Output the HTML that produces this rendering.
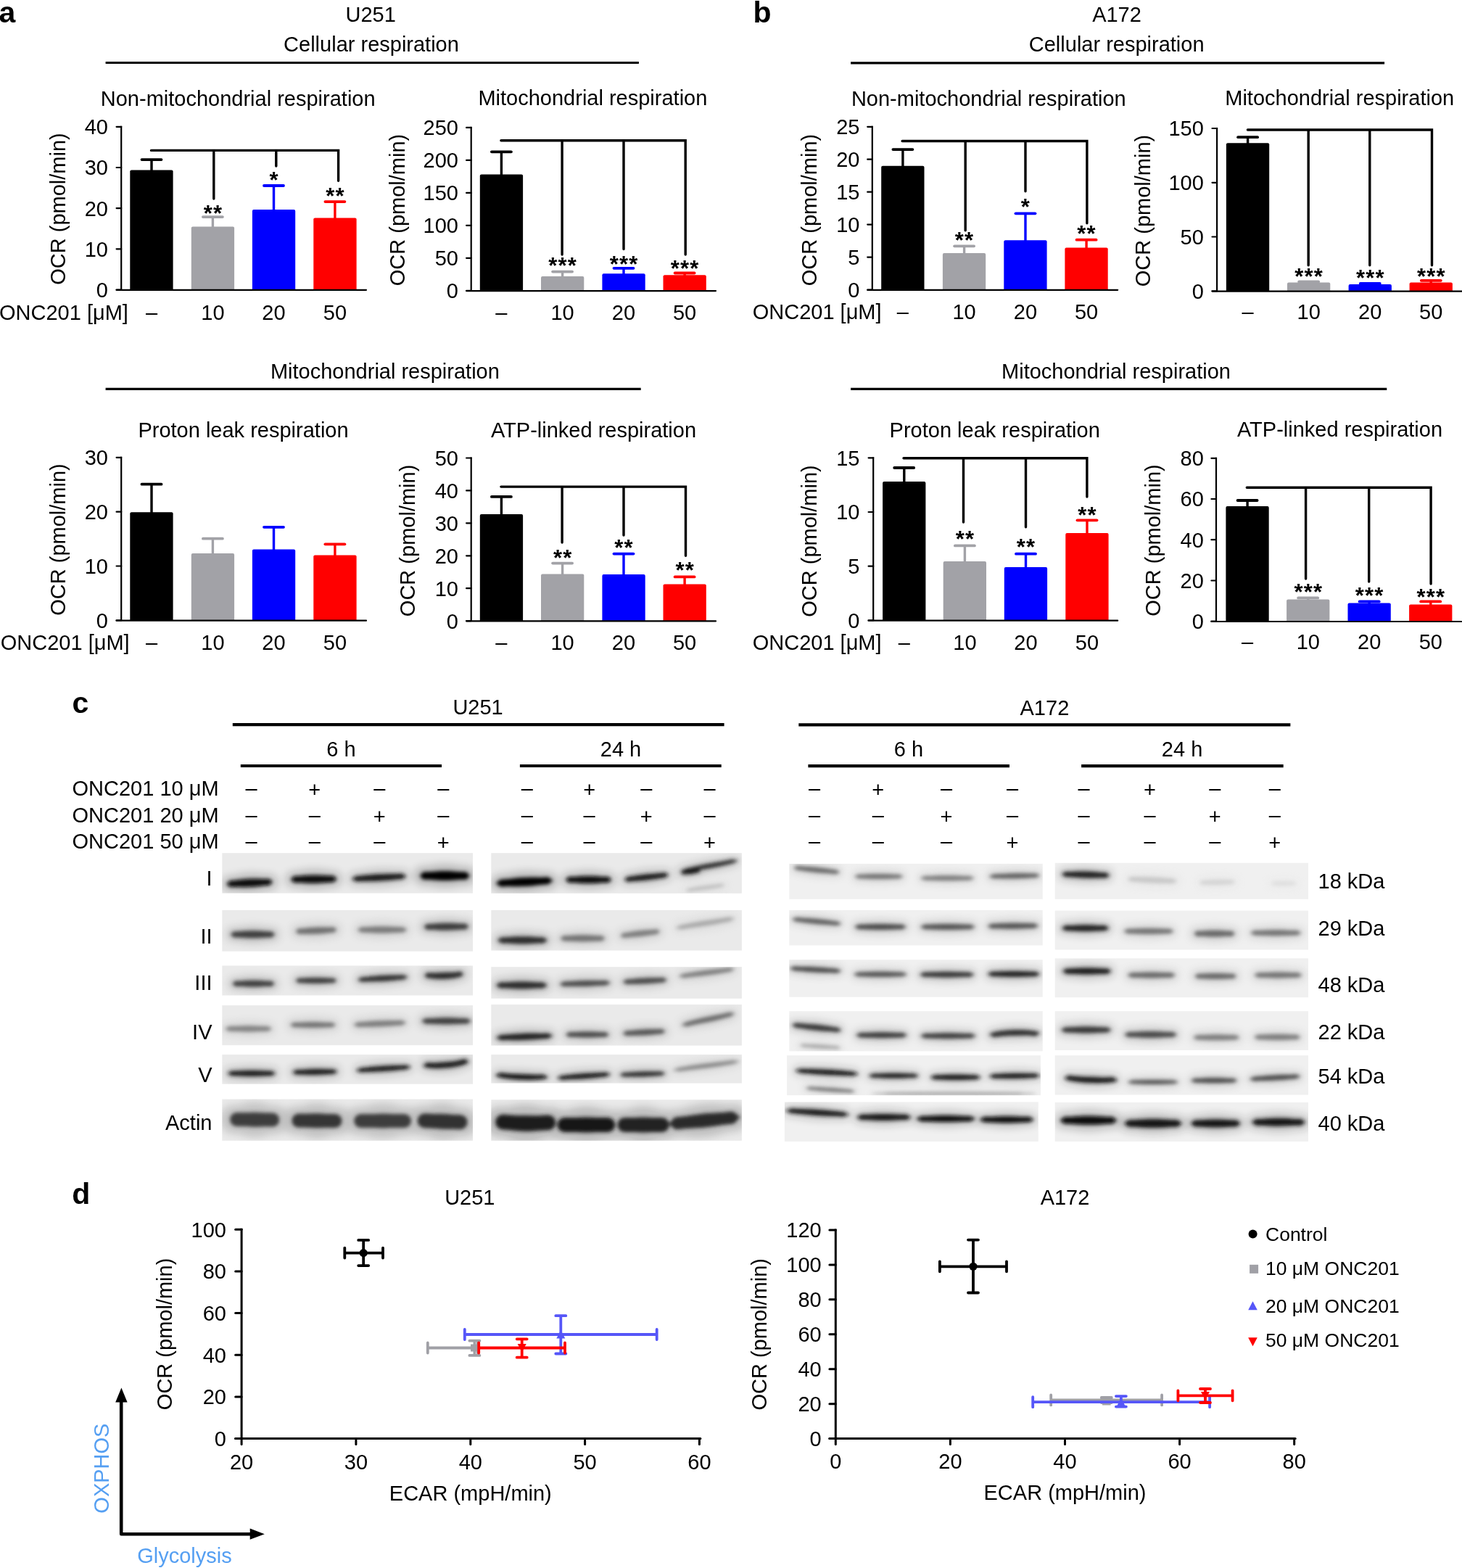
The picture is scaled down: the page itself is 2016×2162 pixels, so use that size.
<!DOCTYPE html>
<html><head><meta charset="utf-8"><title>Figure</title><style>html,body{margin:0;padding:0;background:#fff;}svg{display:block;}</style></head><body>
<svg width="2016" height="2162" viewBox="0 0 2016 2162" font-family='"Liberation Sans", Arial, Helvetica, sans-serif' font-size="29" fill="#000"><defs><filter id="bl" filterUnits="userSpaceOnUse" x="0" y="0" width="2016" height="2162"><feGaussianBlur stdDeviation="2.4"/></filter><filter id="bl2" filterUnits="userSpaceOnUse" x="0" y="0" width="2016" height="2162"><feGaussianBlur stdDeviation="6"/></filter></defs><rect width="2016" height="2162" fill="#fff"/>
<text x="-1.5" y="31" font-size="41" font-weight="bold">a</text>
<text x="1038.5" y="31" font-size="41" font-weight="bold">b</text>
<text x="511.2" y="30" text-anchor="middle">U251</text>
<text x="512" y="70.7" text-anchor="middle">Cellular respiration</text>
<line x1="145.6" y1="86.5" x2="880.9" y2="86.5" stroke="#000" stroke-width="3.2"/>
<text x="1540" y="30" text-anchor="middle">A172</text>
<text x="1539.7" y="70.7" text-anchor="middle">Cellular respiration</text>
<line x1="1173.1" y1="86.8" x2="1909.1" y2="86.8" stroke="#000" stroke-width="3.2"/>
<text x="530.9" y="522" text-anchor="middle">Mitochondrial respiration</text>
<line x1="145.6" y1="536.3" x2="883.7" y2="536.3" stroke="#000" stroke-width="3.2"/>
<text x="1539" y="522" text-anchor="middle">Mitochondrial respiration</text>
<line x1="1173.1" y1="536.3" x2="1912.3" y2="536.3" stroke="#000" stroke-width="3.2"/>
<line x1="209" y1="236.4" x2="209" y2="220.1" stroke="#000000" stroke-width="3.4"/>
<line x1="195.5" y1="220.1" x2="222.5" y2="220.1" stroke="#000000" stroke-width="3.8" stroke-linecap="round"/>
<path d="M179.3 399.5V236.4q0 -2 2 -2H236.6q2 0 2 2V399.5Z" fill="#000000"/>
<line x1="293.4" y1="314.6" x2="293.4" y2="299.1" stroke="#a2a2a7" stroke-width="3.4"/>
<line x1="279.9" y1="299.1" x2="306.9" y2="299.1" stroke="#a2a2a7" stroke-width="3.8" stroke-linecap="round"/>
<path d="M263.8 399.5V314.6q0 -2 2 -2H321.1q2 0 2 2V399.5Z" fill="#a2a2a7"/>
<line x1="377.5" y1="290.9" x2="377.5" y2="256" stroke="#0000ff" stroke-width="3.4"/>
<line x1="364" y1="256" x2="391" y2="256" stroke="#0000ff" stroke-width="3.8" stroke-linecap="round"/>
<path d="M347.9 399.5V290.9q0 -2 2 -2H405.2q2 0 2 2V399.5Z" fill="#0000ff"/>
<line x1="461.9" y1="302.5" x2="461.9" y2="278.1" stroke="#ff0000" stroke-width="3.4"/>
<line x1="448.4" y1="278.1" x2="475.4" y2="278.1" stroke="#ff0000" stroke-width="3.8" stroke-linecap="round"/>
<path d="M432.3 399.5V302.5q0 -2 2 -2H489.6q2 0 2 2V399.5Z" fill="#ff0000"/>
<line x1="167.2" y1="173.7" x2="167.2" y2="399.5" stroke="#000" stroke-width="2.2"/>
<line x1="160.6" y1="174.8" x2="167.2" y2="174.8" stroke="#000" stroke-width="2.2" stroke-linecap="round"/>
<text x="149" y="185.2" text-anchor="end">40</text>
<line x1="160.6" y1="231" x2="167.2" y2="231" stroke="#000" stroke-width="2.2" stroke-linecap="round"/>
<text x="149" y="241.4" text-anchor="end">30</text>
<line x1="160.6" y1="287.1" x2="167.2" y2="287.1" stroke="#000" stroke-width="2.2" stroke-linecap="round"/>
<text x="149" y="297.5" text-anchor="end">20</text>
<line x1="160.6" y1="343.3" x2="167.2" y2="343.3" stroke="#000" stroke-width="2.2" stroke-linecap="round"/>
<text x="149" y="353.7" text-anchor="end">10</text>
<line x1="160.6" y1="399.5" x2="167.2" y2="399.5" stroke="#000" stroke-width="2.2" stroke-linecap="round"/>
<text x="149" y="409.9" text-anchor="end">0</text>
<line x1="160.6" y1="399.8" x2="505" y2="399.8" stroke="#000" stroke-width="2.2" stroke-linecap="round"/>
<text x="89.5" y="288" text-anchor="middle" transform="rotate(-90 89.5 288)">OCR (pmol/min)</text>
<text x="328.2" y="145.6" text-anchor="middle">Non-mitochondrial respiration</text>
<text x="209" y="441" text-anchor="middle">–</text>
<text x="293.4" y="441" text-anchor="middle">10</text>
<text x="377.5" y="441" text-anchor="middle">20</text>
<text x="461.9" y="441" text-anchor="middle">50</text>
<text x="-1" y="441">ONC201 [μM]</text>
<path d="M208.5 207.4H466.6V249.2M294.8 207.4V274M380.8 207.4V229" stroke="#000" stroke-width="3.4" stroke-linecap="round" stroke-linejoin="miter" fill="none"/>
<text x="294" y="304.9" font-size="31" text-anchor="middle" font-weight="bold" letter-spacing="1.2">**</text>
<text x="378.1" y="259" font-size="31" text-anchor="middle" font-weight="bold" letter-spacing="1.2">*</text>
<text x="462.5" y="280.6" font-size="31" text-anchor="middle" font-weight="bold" letter-spacing="1.2">**</text>
<line x1="691.4" y1="242.6" x2="691.4" y2="209.3" stroke="#000000" stroke-width="3.4"/>
<line x1="677.9" y1="209.3" x2="704.9" y2="209.3" stroke="#000000" stroke-width="3.8" stroke-linecap="round"/>
<path d="M661.8 400.8V242.6q0 -2 2 -2H719.1q2 0 2 2V400.8Z" fill="#000000"/>
<line x1="775.6" y1="383.1" x2="775.6" y2="374.6" stroke="#a2a2a7" stroke-width="3.4"/>
<line x1="762.1" y1="374.6" x2="789.1" y2="374.6" stroke="#a2a2a7" stroke-width="3.8" stroke-linecap="round"/>
<path d="M746 400.8V383.1q0 -2 2 -2H803.3q2 0 2 2V400.8Z" fill="#a2a2a7"/>
<line x1="860" y1="379.3" x2="860" y2="369.8" stroke="#0000ff" stroke-width="3.4"/>
<line x1="846.5" y1="369.8" x2="873.5" y2="369.8" stroke="#0000ff" stroke-width="3.8" stroke-linecap="round"/>
<path d="M830.4 400.8V379.3q0 -2 2 -2H887.7q2 0 2 2V400.8Z" fill="#0000ff"/>
<line x1="944.1" y1="381.2" x2="944.1" y2="376.5" stroke="#ff0000" stroke-width="3.4"/>
<line x1="930.6" y1="376.5" x2="957.6" y2="376.5" stroke="#ff0000" stroke-width="3.8" stroke-linecap="round"/>
<path d="M914.5 400.8V381.2q0 -2 2 -2H971.8q2 0 2 2V400.8Z" fill="#ff0000"/>
<line x1="649.7" y1="174.8" x2="649.7" y2="400.8" stroke="#000" stroke-width="2.2"/>
<line x1="643.1" y1="175.9" x2="649.7" y2="175.9" stroke="#000" stroke-width="2.2" stroke-linecap="round"/>
<text x="632" y="186.3" text-anchor="end">250</text>
<line x1="643.1" y1="220.9" x2="649.7" y2="220.9" stroke="#000" stroke-width="2.2" stroke-linecap="round"/>
<text x="632" y="231.3" text-anchor="end">200</text>
<line x1="643.1" y1="265.9" x2="649.7" y2="265.9" stroke="#000" stroke-width="2.2" stroke-linecap="round"/>
<text x="632" y="276.3" text-anchor="end">150</text>
<line x1="643.1" y1="310.8" x2="649.7" y2="310.8" stroke="#000" stroke-width="2.2" stroke-linecap="round"/>
<text x="632" y="321.2" text-anchor="end">100</text>
<line x1="643.1" y1="355.8" x2="649.7" y2="355.8" stroke="#000" stroke-width="2.2" stroke-linecap="round"/>
<text x="632" y="366.2" text-anchor="end">50</text>
<line x1="643.1" y1="400.8" x2="649.7" y2="400.8" stroke="#000" stroke-width="2.2" stroke-linecap="round"/>
<text x="632" y="411.2" text-anchor="end">0</text>
<line x1="643.1" y1="401.1" x2="987" y2="401.1" stroke="#000" stroke-width="2.2" stroke-linecap="round"/>
<text x="557.5" y="289.5" text-anchor="middle" transform="rotate(-90 557.5 289.5)">OCR (pmol/min)</text>
<text x="817.4" y="145.2" text-anchor="middle">Mitochondrial respiration</text>
<text x="691.4" y="441" text-anchor="middle">–</text>
<text x="775.6" y="441" text-anchor="middle">10</text>
<text x="860" y="441" text-anchor="middle">20</text>
<text x="944.1" y="441" text-anchor="middle">50</text>
<path d="M690.9 193.7H945.2V351M775.1 193.7V351M860 193.7V343.6" stroke="#000" stroke-width="3.4" stroke-linecap="round" stroke-linejoin="miter" fill="none"/>
<text x="776.2" y="376.6" font-size="31" text-anchor="middle" font-weight="bold" letter-spacing="1.2">***</text>
<text x="860.6" y="375.2" font-size="31" text-anchor="middle" font-weight="bold" letter-spacing="1.2">***</text>
<text x="944.7" y="380.6" font-size="31" text-anchor="middle" font-weight="bold" letter-spacing="1.2">***</text>
<line x1="209" y1="708.3" x2="209" y2="667.7" stroke="#000000" stroke-width="3.4"/>
<line x1="195.5" y1="667.7" x2="222.5" y2="667.7" stroke="#000000" stroke-width="3.8" stroke-linecap="round"/>
<path d="M179.3 855.4V708.3q0 -2 2 -2H236.6q2 0 2 2V855.4Z" fill="#000000"/>
<line x1="293.4" y1="764.9" x2="293.4" y2="742.7" stroke="#a2a2a7" stroke-width="3.4"/>
<line x1="279.9" y1="742.7" x2="306.9" y2="742.7" stroke="#a2a2a7" stroke-width="3.8" stroke-linecap="round"/>
<path d="M263.8 855.4V764.9q0 -2 2 -2H321.1q2 0 2 2V855.4Z" fill="#a2a2a7"/>
<line x1="377.5" y1="759.5" x2="377.5" y2="726.8" stroke="#0000ff" stroke-width="3.4"/>
<line x1="364" y1="726.8" x2="391" y2="726.8" stroke="#0000ff" stroke-width="3.8" stroke-linecap="round"/>
<path d="M347.9 855.4V759.5q0 -2 2 -2H405.2q2 0 2 2V855.4Z" fill="#0000ff"/>
<line x1="461.9" y1="767.6" x2="461.9" y2="750.3" stroke="#ff0000" stroke-width="3.4"/>
<line x1="448.4" y1="750.3" x2="475.4" y2="750.3" stroke="#ff0000" stroke-width="3.8" stroke-linecap="round"/>
<path d="M432.3 855.4V767.6q0 -2 2 -2H489.6q2 0 2 2V855.4Z" fill="#ff0000"/>
<line x1="167.2" y1="629.7" x2="167.2" y2="855.4" stroke="#000" stroke-width="2.2"/>
<line x1="160.6" y1="630.8" x2="167.2" y2="630.8" stroke="#000" stroke-width="2.2" stroke-linecap="round"/>
<text x="149" y="641.2" text-anchor="end">30</text>
<line x1="160.6" y1="705.7" x2="167.2" y2="705.7" stroke="#000" stroke-width="2.2" stroke-linecap="round"/>
<text x="149" y="716.1" text-anchor="end">20</text>
<line x1="160.6" y1="780.5" x2="167.2" y2="780.5" stroke="#000" stroke-width="2.2" stroke-linecap="round"/>
<text x="149" y="790.9" text-anchor="end">10</text>
<line x1="160.6" y1="855.4" x2="167.2" y2="855.4" stroke="#000" stroke-width="2.2" stroke-linecap="round"/>
<text x="149" y="865.8" text-anchor="end">0</text>
<line x1="160.6" y1="855.7" x2="505" y2="855.7" stroke="#000" stroke-width="2.2" stroke-linecap="round"/>
<text x="89.5" y="744" text-anchor="middle" transform="rotate(-90 89.5 744)">OCR (pmol/min)</text>
<text x="335.5" y="602.7" text-anchor="middle">Proton leak respiration</text>
<text x="209" y="896.4" text-anchor="middle">–</text>
<text x="293.4" y="896.4" text-anchor="middle">10</text>
<text x="377.5" y="896.4" text-anchor="middle">20</text>
<text x="461.9" y="896.4" text-anchor="middle">50</text>
<text x="0.8" y="896.4">ONC201 [μM]</text>
<line x1="691.4" y1="710.9" x2="691.4" y2="684.9" stroke="#000000" stroke-width="3.4"/>
<line x1="677.9" y1="684.9" x2="704.9" y2="684.9" stroke="#000000" stroke-width="3.8" stroke-linecap="round"/>
<path d="M661.8 856.1V710.9q0 -2 2 -2H719.1q2 0 2 2V856.1Z" fill="#000000"/>
<line x1="775.6" y1="793.4" x2="775.6" y2="776.6" stroke="#a2a2a7" stroke-width="3.4"/>
<line x1="762.1" y1="776.6" x2="789.1" y2="776.6" stroke="#a2a2a7" stroke-width="3.8" stroke-linecap="round"/>
<path d="M746 856.1V793.4q0 -2 2 -2H803.3q2 0 2 2V856.1Z" fill="#a2a2a7"/>
<line x1="860" y1="793.9" x2="860" y2="763.6" stroke="#0000ff" stroke-width="3.4"/>
<line x1="846.5" y1="763.6" x2="873.5" y2="763.6" stroke="#0000ff" stroke-width="3.8" stroke-linecap="round"/>
<path d="M830.4 856.1V793.9q0 -2 2 -2H887.7q2 0 2 2V856.1Z" fill="#0000ff"/>
<line x1="944.1" y1="807.4" x2="944.1" y2="795.4" stroke="#ff0000" stroke-width="3.4"/>
<line x1="930.6" y1="795.4" x2="957.6" y2="795.4" stroke="#ff0000" stroke-width="3.8" stroke-linecap="round"/>
<path d="M914.5 856.1V807.4q0 -2 2 -2H971.8q2 0 2 2V856.1Z" fill="#ff0000"/>
<line x1="649.7" y1="630.4" x2="649.7" y2="856.1" stroke="#000" stroke-width="2.2"/>
<line x1="643.1" y1="631.5" x2="649.7" y2="631.5" stroke="#000" stroke-width="2.2" stroke-linecap="round"/>
<text x="632" y="641.9" text-anchor="end">50</text>
<line x1="643.1" y1="676.4" x2="649.7" y2="676.4" stroke="#000" stroke-width="2.2" stroke-linecap="round"/>
<text x="632" y="686.8" text-anchor="end">40</text>
<line x1="643.1" y1="721.3" x2="649.7" y2="721.3" stroke="#000" stroke-width="2.2" stroke-linecap="round"/>
<text x="632" y="731.7" text-anchor="end">30</text>
<line x1="643.1" y1="766.3" x2="649.7" y2="766.3" stroke="#000" stroke-width="2.2" stroke-linecap="round"/>
<text x="632" y="776.7" text-anchor="end">20</text>
<line x1="643.1" y1="811.2" x2="649.7" y2="811.2" stroke="#000" stroke-width="2.2" stroke-linecap="round"/>
<text x="632" y="821.6" text-anchor="end">10</text>
<line x1="643.1" y1="856.1" x2="649.7" y2="856.1" stroke="#000" stroke-width="2.2" stroke-linecap="round"/>
<text x="632" y="866.5" text-anchor="end">0</text>
<line x1="643.1" y1="856.4" x2="987" y2="856.4" stroke="#000" stroke-width="2.2" stroke-linecap="round"/>
<text x="572" y="745.4" text-anchor="middle" transform="rotate(-90 572 745.4)">OCR (pmol/min)</text>
<text x="818.5" y="602.6" text-anchor="middle">ATP-linked respiration</text>
<text x="691.4" y="895.8" text-anchor="middle">–</text>
<text x="775.6" y="895.8" text-anchor="middle">10</text>
<text x="860" y="895.8" text-anchor="middle">20</text>
<text x="944.1" y="895.8" text-anchor="middle">50</text>
<path d="M690.9 671.1H945.5V766.3M775.1 671.1V748M860 671.1V738" stroke="#000" stroke-width="3.4" stroke-linecap="round" stroke-linejoin="miter" fill="none"/>
<text x="776.2" y="779.6" font-size="31" text-anchor="middle" font-weight="bold" letter-spacing="1.2">**</text>
<text x="860.6" y="766.3" font-size="31" text-anchor="middle" font-weight="bold" letter-spacing="1.2">**</text>
<text x="944.7" y="797.3" font-size="31" text-anchor="middle" font-weight="bold" letter-spacing="1.2">**</text>
<line x1="1244.9" y1="230.7" x2="1244.9" y2="206.1" stroke="#000000" stroke-width="3.4"/>
<line x1="1231.4" y1="206.1" x2="1258.4" y2="206.1" stroke="#000000" stroke-width="3.8" stroke-linecap="round"/>
<path d="M1215.2 399.5V230.7q0 -2 2 -2H1272.5q2 0 2 2V399.5Z" fill="#000000"/>
<line x1="1329.6" y1="351" x2="1329.6" y2="339.3" stroke="#a2a2a7" stroke-width="3.4"/>
<line x1="1316.1" y1="339.3" x2="1343.1" y2="339.3" stroke="#a2a2a7" stroke-width="3.8" stroke-linecap="round"/>
<path d="M1299.9 399.5V351q0 -2 2 -2H1357.2q2 0 2 2V399.5Z" fill="#a2a2a7"/>
<line x1="1414" y1="333.2" x2="1414" y2="294.3" stroke="#0000ff" stroke-width="3.4"/>
<line x1="1400.5" y1="294.3" x2="1427.5" y2="294.3" stroke="#0000ff" stroke-width="3.8" stroke-linecap="round"/>
<path d="M1384.3 399.5V333.2q0 -2 2 -2H1441.6q2 0 2 2V399.5Z" fill="#0000ff"/>
<line x1="1498.1" y1="343.5" x2="1498.1" y2="330.7" stroke="#ff0000" stroke-width="3.4"/>
<line x1="1484.6" y1="330.7" x2="1511.6" y2="330.7" stroke="#ff0000" stroke-width="3.8" stroke-linecap="round"/>
<path d="M1468.4 399.5V343.5q0 -2 2 -2H1525.7q2 0 2 2V399.5Z" fill="#ff0000"/>
<line x1="1202.8" y1="173.7" x2="1202.8" y2="399.5" stroke="#000" stroke-width="2.2"/>
<line x1="1196.2" y1="174.8" x2="1202.8" y2="174.8" stroke="#000" stroke-width="2.2" stroke-linecap="round"/>
<text x="1185.4" y="185.2" text-anchor="end">25</text>
<line x1="1196.2" y1="219.7" x2="1202.8" y2="219.7" stroke="#000" stroke-width="2.2" stroke-linecap="round"/>
<text x="1185.4" y="230.1" text-anchor="end">20</text>
<line x1="1196.2" y1="264.7" x2="1202.8" y2="264.7" stroke="#000" stroke-width="2.2" stroke-linecap="round"/>
<text x="1185.4" y="275.1" text-anchor="end">15</text>
<line x1="1196.2" y1="309.6" x2="1202.8" y2="309.6" stroke="#000" stroke-width="2.2" stroke-linecap="round"/>
<text x="1185.4" y="320" text-anchor="end">10</text>
<line x1="1196.2" y1="354.6" x2="1202.8" y2="354.6" stroke="#000" stroke-width="2.2" stroke-linecap="round"/>
<text x="1185.4" y="365" text-anchor="end">5</text>
<line x1="1196.2" y1="399.5" x2="1202.8" y2="399.5" stroke="#000" stroke-width="2.2" stroke-linecap="round"/>
<text x="1185.4" y="409.9" text-anchor="end">0</text>
<line x1="1196.2" y1="399.8" x2="1541.2" y2="399.8" stroke="#000" stroke-width="2.2" stroke-linecap="round"/>
<text x="1126" y="289.5" text-anchor="middle" transform="rotate(-90 1126 289.5)">OCR (pmol/min)</text>
<text x="1363.3" y="145.6" text-anchor="middle">Non-mitochondrial respiration</text>
<text x="1244.9" y="440" text-anchor="middle">–</text>
<text x="1329.6" y="440" text-anchor="middle">10</text>
<text x="1414" y="440" text-anchor="middle">20</text>
<text x="1498.1" y="440" text-anchor="middle">50</text>
<text x="1037.7" y="440">ONC201 [μM]</text>
<path d="M1244.1 194.5H1498.9V307.8M1331.2 194.5V317.7M1414 194.5V263.8" stroke="#000" stroke-width="3.4" stroke-linecap="round" stroke-linejoin="miter" fill="none"/>
<text x="1330.1" y="341.5" font-size="31" text-anchor="middle" font-weight="bold" letter-spacing="1.2">**</text>
<text x="1414.5" y="295.6" font-size="31" text-anchor="middle" font-weight="bold" letter-spacing="1.2">*</text>
<text x="1498.6" y="332.6" font-size="31" text-anchor="middle" font-weight="bold" letter-spacing="1.2">**</text>
<line x1="1720.6" y1="199.3" x2="1720.6" y2="189.2" stroke="#000000" stroke-width="3.4"/>
<line x1="1707.1" y1="189.2" x2="1734.1" y2="189.2" stroke="#000000" stroke-width="3.8" stroke-linecap="round"/>
<path d="M1690.9 401.3V199.3q0 -2 2 -2H1748.2q2 0 2 2V401.3Z" fill="#000000"/>
<line x1="1804.7" y1="391.4" x2="1804.7" y2="388.5" stroke="#a2a2a7" stroke-width="3.4"/>
<line x1="1791.2" y1="388.5" x2="1818.2" y2="388.5" stroke="#a2a2a7" stroke-width="3.8" stroke-linecap="round"/>
<path d="M1775 401.3V391.4q0 -2 2 -2H1832.3q2 0 2 2V401.3Z" fill="#a2a2a7"/>
<line x1="1889.2" y1="394.1" x2="1889.2" y2="391" stroke="#0000ff" stroke-width="3.4"/>
<line x1="1875.8" y1="391" x2="1902.8" y2="391" stroke="#0000ff" stroke-width="3.8" stroke-linecap="round"/>
<path d="M1859.6 401.3V394.1q0 -2 2 -2H1916.9q2 0 2 2V401.3Z" fill="#0000ff"/>
<line x1="1973.2" y1="391.4" x2="1973.2" y2="386.8" stroke="#ff0000" stroke-width="3.4"/>
<line x1="1959.8" y1="386.8" x2="1986.8" y2="386.8" stroke="#ff0000" stroke-width="3.8" stroke-linecap="round"/>
<path d="M1943.6 401.3V391.4q0 -2 2 -2H2000.9q2 0 2 2V401.3Z" fill="#ff0000"/>
<line x1="1678.1" y1="175.9" x2="1678.1" y2="401.3" stroke="#000" stroke-width="2.2"/>
<line x1="1671.5" y1="177" x2="1678.1" y2="177" stroke="#000" stroke-width="2.2" stroke-linecap="round"/>
<text x="1659.8" y="187.4" text-anchor="end">150</text>
<line x1="1671.5" y1="251.8" x2="1678.1" y2="251.8" stroke="#000" stroke-width="2.2" stroke-linecap="round"/>
<text x="1659.8" y="262.2" text-anchor="end">100</text>
<line x1="1671.5" y1="326.5" x2="1678.1" y2="326.5" stroke="#000" stroke-width="2.2" stroke-linecap="round"/>
<text x="1659.8" y="336.9" text-anchor="end">50</text>
<line x1="1671.5" y1="401.3" x2="1678.1" y2="401.3" stroke="#000" stroke-width="2.2" stroke-linecap="round"/>
<text x="1659.8" y="411.7" text-anchor="end">0</text>
<line x1="1671.5" y1="401.6" x2="2016" y2="401.6" stroke="#000" stroke-width="2.2" stroke-linecap="round"/>
<text x="1586" y="290.5" text-anchor="middle" transform="rotate(-90 1586 290.5)">OCR (pmol/min)</text>
<text x="1847.2" y="145.3" text-anchor="middle">Mitochondrial respiration</text>
<text x="1720.6" y="439.5" text-anchor="middle">–</text>
<text x="1804.7" y="439.5" text-anchor="middle">10</text>
<text x="1889.2" y="439.5" text-anchor="middle">20</text>
<text x="1973.2" y="439.5" text-anchor="middle">50</text>
<path d="M1720.4 179H1974.5V365.7M1804.2 179V365.7M1888.8 179V365.7" stroke="#000" stroke-width="3.4" stroke-linecap="round" stroke-linejoin="miter" fill="none"/>
<text x="1805.2" y="392.3" font-size="31" text-anchor="middle" font-weight="bold" letter-spacing="1.2">***</text>
<text x="1889.8" y="394.3" font-size="31" text-anchor="middle" font-weight="bold" letter-spacing="1.2">***</text>
<text x="1973.8" y="391.9" font-size="31" text-anchor="middle" font-weight="bold" letter-spacing="1.2">***</text>
<line x1="1246.8" y1="665.9" x2="1246.8" y2="645" stroke="#000000" stroke-width="3.4"/>
<line x1="1233.2" y1="645" x2="1260.2" y2="645" stroke="#000000" stroke-width="3.8" stroke-linecap="round"/>
<path d="M1217.1 855.4V665.9q0 -2 2 -2H1274.4q2 0 2 2V855.4Z" fill="#000000"/>
<line x1="1330.4" y1="776" x2="1330.4" y2="752.4" stroke="#a2a2a7" stroke-width="3.4"/>
<line x1="1316.9" y1="752.4" x2="1343.9" y2="752.4" stroke="#a2a2a7" stroke-width="3.8" stroke-linecap="round"/>
<path d="M1300.7 855.4V776q0 -2 2 -2H1358q2 0 2 2V855.4Z" fill="#a2a2a7"/>
<line x1="1414.5" y1="784" x2="1414.5" y2="763.7" stroke="#0000ff" stroke-width="3.4"/>
<line x1="1401" y1="763.7" x2="1428" y2="763.7" stroke="#0000ff" stroke-width="3.8" stroke-linecap="round"/>
<path d="M1384.8 855.4V784q0 -2 2 -2H1442.1q2 0 2 2V855.4Z" fill="#0000ff"/>
<line x1="1499" y1="736.9" x2="1499" y2="717.3" stroke="#ff0000" stroke-width="3.4"/>
<line x1="1485.5" y1="717.3" x2="1512.5" y2="717.3" stroke="#ff0000" stroke-width="3.8" stroke-linecap="round"/>
<path d="M1469.3 855.4V736.9q0 -2 2 -2H1526.6q2 0 2 2V855.4Z" fill="#ff0000"/>
<line x1="1204.2" y1="630.2" x2="1204.2" y2="855.4" stroke="#000" stroke-width="2.2"/>
<line x1="1197.6" y1="631.3" x2="1204.2" y2="631.3" stroke="#000" stroke-width="2.2" stroke-linecap="round"/>
<text x="1185.4" y="641.7" text-anchor="end">15</text>
<line x1="1197.6" y1="706" x2="1204.2" y2="706" stroke="#000" stroke-width="2.2" stroke-linecap="round"/>
<text x="1185.4" y="716.4" text-anchor="end">10</text>
<line x1="1197.6" y1="780.7" x2="1204.2" y2="780.7" stroke="#000" stroke-width="2.2" stroke-linecap="round"/>
<text x="1185.4" y="791.1" text-anchor="end">5</text>
<line x1="1197.6" y1="855.4" x2="1204.2" y2="855.4" stroke="#000" stroke-width="2.2" stroke-linecap="round"/>
<text x="1185.4" y="865.8" text-anchor="end">0</text>
<line x1="1197.6" y1="855.7" x2="1541.2" y2="855.7" stroke="#000" stroke-width="2.2" stroke-linecap="round"/>
<text x="1126" y="746" text-anchor="middle" transform="rotate(-90 1126 746)">OCR (pmol/min)</text>
<text x="1371.7" y="602.7" text-anchor="middle">Proton leak respiration</text>
<text x="1246.8" y="896.4" text-anchor="middle">–</text>
<text x="1330.4" y="896.4" text-anchor="middle">10</text>
<text x="1414.5" y="896.4" text-anchor="middle">20</text>
<text x="1499" y="896.4" text-anchor="middle">50</text>
<text x="1037.7" y="896.4">ONC201 [μM]</text>
<path d="M1246 631.8H1498.9V685M1328.5 631.8V720M1414.5 631.8V726.8" stroke="#000" stroke-width="3.4" stroke-linecap="round" stroke-linejoin="miter" fill="none"/>
<text x="1330.9" y="753.6" font-size="31" text-anchor="middle" font-weight="bold" letter-spacing="1.2">**</text>
<text x="1415" y="764.6" font-size="31" text-anchor="middle" font-weight="bold" letter-spacing="1.2">**</text>
<text x="1499.5" y="721.4" font-size="31" text-anchor="middle" font-weight="bold" letter-spacing="1.2">**</text>
<line x1="1720.1" y1="700" x2="1720.1" y2="690" stroke="#000000" stroke-width="3.4"/>
<line x1="1706.6" y1="690" x2="1733.6" y2="690" stroke="#000000" stroke-width="3.8" stroke-linecap="round"/>
<path d="M1690.4 856.7V700q0 -2 2 -2H1747.7q2 0 2 2V856.7Z" fill="#000000"/>
<line x1="1803.8" y1="828.6" x2="1803.8" y2="824.4" stroke="#a2a2a7" stroke-width="3.4"/>
<line x1="1790.2" y1="824.4" x2="1817.2" y2="824.4" stroke="#a2a2a7" stroke-width="3.8" stroke-linecap="round"/>
<path d="M1774.1 856.7V828.6q0 -2 2 -2H1831.4q2 0 2 2V856.7Z" fill="#a2a2a7"/>
<line x1="1888.2" y1="833.4" x2="1888.2" y2="829.4" stroke="#0000ff" stroke-width="3.4"/>
<line x1="1874.7" y1="829.4" x2="1901.7" y2="829.4" stroke="#0000ff" stroke-width="3.8" stroke-linecap="round"/>
<path d="M1858.5 856.7V833.4q0 -2 2 -2H1915.8q2 0 2 2V856.7Z" fill="#0000ff"/>
<line x1="1972.8" y1="835.6" x2="1972.8" y2="829.4" stroke="#ff0000" stroke-width="3.4"/>
<line x1="1959.2" y1="829.4" x2="1986.2" y2="829.4" stroke="#ff0000" stroke-width="3.8" stroke-linecap="round"/>
<path d="M1943.1 856.7V835.6q0 -2 2 -2H2000.4q2 0 2 2V856.7Z" fill="#ff0000"/>
<line x1="1677" y1="630.7" x2="1677" y2="856.7" stroke="#000" stroke-width="2.2"/>
<line x1="1670.4" y1="631.8" x2="1677" y2="631.8" stroke="#000" stroke-width="2.2" stroke-linecap="round"/>
<text x="1659.8" y="642.2" text-anchor="end">80</text>
<line x1="1670.4" y1="688" x2="1677" y2="688" stroke="#000" stroke-width="2.2" stroke-linecap="round"/>
<text x="1659.8" y="698.4" text-anchor="end">60</text>
<line x1="1670.4" y1="744.2" x2="1677" y2="744.2" stroke="#000" stroke-width="2.2" stroke-linecap="round"/>
<text x="1659.8" y="754.6" text-anchor="end">40</text>
<line x1="1670.4" y1="800.5" x2="1677" y2="800.5" stroke="#000" stroke-width="2.2" stroke-linecap="round"/>
<text x="1659.8" y="810.9" text-anchor="end">20</text>
<line x1="1670.4" y1="856.7" x2="1677" y2="856.7" stroke="#000" stroke-width="2.2" stroke-linecap="round"/>
<text x="1659.8" y="867.1" text-anchor="end">0</text>
<line x1="1670.4" y1="857" x2="2015" y2="857" stroke="#000" stroke-width="2.2" stroke-linecap="round"/>
<text x="1600" y="745" text-anchor="middle" transform="rotate(-90 1600 745)">OCR (pmol/min)</text>
<text x="1847.5" y="602.3" text-anchor="middle">ATP-linked respiration</text>
<text x="1720.1" y="895.4" text-anchor="middle">–</text>
<text x="1803.8" y="895.4" text-anchor="middle">10</text>
<text x="1888.2" y="895.4" text-anchor="middle">20</text>
<text x="1972.8" y="895.4" text-anchor="middle">50</text>
<path d="M1719.3 672.2H1973.1V805M1800.6 672.2V798M1887.7 672.2V802.1" stroke="#000" stroke-width="3.4" stroke-linecap="round" stroke-linejoin="miter" fill="none"/>
<text x="1804.3" y="826.6" font-size="31" text-anchor="middle" font-weight="bold" letter-spacing="1.2">***</text>
<text x="1888.7" y="832.1" font-size="31" text-anchor="middle" font-weight="bold" letter-spacing="1.2">***</text>
<text x="1973.3" y="833.5" font-size="31" text-anchor="middle" font-weight="bold" letter-spacing="1.2">***</text>
<text x="99.5" y="982.5" font-size="41" font-weight="bold">c</text>
<text x="659.1" y="985" text-anchor="middle">U251</text>
<line x1="320.8" y1="999.2" x2="998.6" y2="999.2" stroke="#000" stroke-width="4.2"/>
<text x="1440.4" y="985.8" text-anchor="middle">A172</text>
<line x1="1101.3" y1="999.4" x2="1779.4" y2="999.4" stroke="#000" stroke-width="4.2"/>
<text x="470.4" y="1043" text-anchor="middle">6 h</text>
<line x1="331.8" y1="1056" x2="609" y2="1056" stroke="#000" stroke-width="4.2"/>
<text x="856" y="1043" text-anchor="middle">24 h</text>
<line x1="716.9" y1="1056" x2="994.7" y2="1056" stroke="#000" stroke-width="4.2"/>
<text x="1253" y="1043" text-anchor="middle">6 h</text>
<line x1="1114.4" y1="1056.2" x2="1392" y2="1056.2" stroke="#000" stroke-width="4.2"/>
<text x="1630.1" y="1043" text-anchor="middle">24 h</text>
<line x1="1491.1" y1="1056.2" x2="1769.7" y2="1056.2" stroke="#000" stroke-width="4.2"/>
<text x="99.5" y="1097">ONC201 10 μM</text>
<text x="99.5" y="1133.6">ONC201 20 μM</text>
<text x="99.5" y="1169.8">ONC201 50 μM</text>
<text x="346.6" y="1097" text-anchor="middle">–</text>
<text x="346.6" y="1133.6" text-anchor="middle">–</text>
<text x="346.6" y="1169.8" text-anchor="middle">–</text>
<text x="433.8" y="1099.2" text-anchor="middle">+</text>
<text x="433.8" y="1133.6" text-anchor="middle">–</text>
<text x="433.8" y="1169.8" text-anchor="middle">–</text>
<text x="523.2" y="1097" text-anchor="middle">–</text>
<text x="523.2" y="1135.8" text-anchor="middle">+</text>
<text x="523.2" y="1169.8" text-anchor="middle">–</text>
<text x="611.2" y="1097" text-anchor="middle">–</text>
<text x="611.2" y="1133.6" text-anchor="middle">–</text>
<text x="611.2" y="1172" text-anchor="middle">+</text>
<text x="726.8" y="1097" text-anchor="middle">–</text>
<text x="726.8" y="1133.6" text-anchor="middle">–</text>
<text x="726.8" y="1169.8" text-anchor="middle">–</text>
<text x="812.6" y="1099.2" text-anchor="middle">+</text>
<text x="812.6" y="1133.6" text-anchor="middle">–</text>
<text x="812.6" y="1169.8" text-anchor="middle">–</text>
<text x="891.3" y="1097" text-anchor="middle">–</text>
<text x="891.3" y="1135.8" text-anchor="middle">+</text>
<text x="891.3" y="1169.8" text-anchor="middle">–</text>
<text x="978.5" y="1097" text-anchor="middle">–</text>
<text x="978.5" y="1133.6" text-anchor="middle">–</text>
<text x="978.5" y="1172" text-anchor="middle">+</text>
<text x="1123" y="1097" text-anchor="middle">–</text>
<text x="1123" y="1133.6" text-anchor="middle">–</text>
<text x="1123" y="1169.8" text-anchor="middle">–</text>
<text x="1210.7" y="1099.2" text-anchor="middle">+</text>
<text x="1210.7" y="1133.6" text-anchor="middle">–</text>
<text x="1210.7" y="1169.8" text-anchor="middle">–</text>
<text x="1305" y="1097" text-anchor="middle">–</text>
<text x="1305" y="1135.8" text-anchor="middle">+</text>
<text x="1305" y="1169.8" text-anchor="middle">–</text>
<text x="1396" y="1097" text-anchor="middle">–</text>
<text x="1396" y="1133.6" text-anchor="middle">–</text>
<text x="1396" y="1172" text-anchor="middle">+</text>
<text x="1494.5" y="1097" text-anchor="middle">–</text>
<text x="1494.5" y="1133.6" text-anchor="middle">–</text>
<text x="1494.5" y="1169.8" text-anchor="middle">–</text>
<text x="1585.5" y="1099.2" text-anchor="middle">+</text>
<text x="1585.5" y="1133.6" text-anchor="middle">–</text>
<text x="1585.5" y="1169.8" text-anchor="middle">–</text>
<text x="1675.3" y="1097" text-anchor="middle">–</text>
<text x="1675.3" y="1135.8" text-anchor="middle">+</text>
<text x="1675.3" y="1169.8" text-anchor="middle">–</text>
<text x="1757.8" y="1097" text-anchor="middle">–</text>
<text x="1757.8" y="1133.6" text-anchor="middle">–</text>
<text x="1757.8" y="1172" text-anchor="middle">+</text>
<text x="292.5" y="1220.7" text-anchor="end">I</text>
<text x="292.5" y="1301.4" text-anchor="end">II</text>
<text x="292.5" y="1365.4" text-anchor="end">III</text>
<text x="292.5" y="1433" text-anchor="end">IV</text>
<text x="292.5" y="1492.2" text-anchor="end">V</text>
<text x="292.5" y="1558.3" text-anchor="end">Actin</text>
<text x="1817.5" y="1225.4">18 kDa</text>
<text x="1817.5" y="1290.4">29 kDa</text>
<text x="1817.5" y="1368.2">48 kDa</text>
<text x="1817.5" y="1433">22 kDa</text>
<text x="1817.5" y="1493.7">54 kDa</text>
<text x="1817.5" y="1558.8">40 kDa</text>
<clipPath id="c1"><rect x="306.3" y="1176.2" width="345.7" height="55.4"/></clipPath>
<rect x="306.3" y="1176.2" width="345.7" height="55.4" fill="#eaeaea"/>
<g clip-path="url(#c1)">
<g filter="url(#bl2)" opacity="0.22">
<g fill="rgb(8,8,8)" stroke="rgb(8,8,8)"><path d="M309.4 1219C313.6 1200.9 374.8 1198.9 379 1216C374.8 1234.1 313.6 1236.1 309.4 1219Z" stroke="none"/><path d="M316.4 1218.7Q344.2 1217.5 372 1216.3" fill="none" stroke-width="21.1" stroke-linecap="round"/></g>
<g fill="rgb(8,8,8)" stroke="rgb(8,8,8)"><path d="M397.8 1212.5C402 1194.8 463.3 1194.5 467.5 1212C463.3 1229.7 402 1230 397.8 1212.5Z" stroke="none"/><path d="M404.8 1212.5Q432.6 1212.2 460.5 1212" fill="none" stroke-width="21.1" stroke-linecap="round"/></g>
<g fill="rgb(18,18,18)" stroke="rgb(18,18,18)"><path d="M482 1212C486.9 1196.9 558.6 1194.3 563.5 1208C558.6 1223.1 486.9 1225.7 482 1212Z" stroke="none"/><path d="M490.1 1211.6Q522.8 1210 555.4 1208.4" fill="none" stroke-width="17.3" stroke-linecap="round"/></g>
<g fill="rgb(2,2,2)" stroke="rgb(2,2,2)"><path d="M575.8 1207.5C580.3 1186.7 646.3 1186.7 650.8 1207.5C646.3 1228.3 580.3 1228.3 575.8 1207.5Z" stroke="none"/><path d="M583.3 1207.5Q613.3 1207.5 643.3 1207.5" fill="none" stroke-width="25" stroke-linecap="round"/></g>
</g>
<g filter="url(#bl)">
<g fill="rgb(8,8,8)" stroke="rgb(8,8,8)"><path d="M312.4 1219C316.2 1211.2 372.2 1209.2 376 1216C372.2 1223.8 316.2 1225.8 312.4 1219Z" stroke="none"/><path d="M318.8 1218.7Q344.2 1217.5 369.6 1216.3" fill="none" stroke-width="8.8" stroke-linecap="round"/></g>
<g fill="rgb(8,8,8)" stroke="rgb(8,8,8)"><path d="M400.8 1212.5C404.6 1205.1 460.7 1204.8 464.5 1212C460.7 1219.4 404.6 1219.7 400.8 1212.5Z" stroke="none"/><path d="M407.2 1212.5Q432.6 1212.2 458.1 1212" fill="none" stroke-width="8.8" stroke-linecap="round"/></g>
<g fill="rgb(18,18,18)" stroke="rgb(18,18,18)"><path d="M485 1212C489.5 1205.3 556 1202.7 560.5 1208C556 1214.7 489.5 1217.3 485 1212Z" stroke="none"/><path d="M492.6 1211.6Q522.8 1210 553 1208.4" fill="none" stroke-width="7.2" stroke-linecap="round"/></g>
<g fill="rgb(2,2,2)" stroke="rgb(2,2,2)"><path d="M578.8 1207.5C582.9 1198.8 643.7 1198.8 647.8 1207.5C643.7 1216.2 582.9 1216.2 578.8 1207.5Z" stroke="none"/><path d="M585.7 1207.5Q613.3 1207.5 640.9 1207.5" fill="none" stroke-width="10.4" stroke-linecap="round"/></g>
</g></g>
<clipPath id="c2"><rect x="306.3" y="1254.9" width="345.7" height="56.8"/></clipPath>
<rect x="306.3" y="1254.9" width="345.7" height="56.8" fill="#eaeaea"/>
<g clip-path="url(#c2)">
<g filter="url(#bl2)" opacity="0.22">
<g fill="rgb(65,65,65)" stroke="rgb(65,65,65)"><path d="M314.8 1288.4C318.8 1272.4 378.2 1272.4 382.2 1288.4C378.2 1304.4 318.8 1304.4 314.8 1288.4Z" stroke="none"/><path d="M321.5 1288.4Q348.5 1288.4 375.5 1288.4" fill="none" stroke-width="19.2" stroke-linecap="round"/></g>
<g fill="rgb(112,112,112)" stroke="rgb(112,112,112)"><path d="M404.3 1284.5C408.1 1269.7 463.7 1268 467.5 1282C463.7 1296.8 408.1 1298.5 404.3 1284.5Z" stroke="none"/><path d="M410.6 1284.2Q435.9 1283.2 461.2 1282.2" fill="none" stroke-width="17.3" stroke-linecap="round"/></g>
<g fill="rgb(122,122,122)" stroke="rgb(122,122,122)"><path d="M489.5 1282C494 1267.6 560 1267.6 564.5 1282C560 1296.4 494 1296.4 489.5 1282Z" stroke="none"/><path d="M497 1282Q527 1282 557 1282" fill="none" stroke-width="17.3" stroke-linecap="round"/></g>
<g fill="rgb(60,60,60)" stroke="rgb(60,60,60)"><path d="M581.2 1278C585.3 1261.9 645.7 1261.7 649.8 1277.6C645.7 1293.7 585.3 1293.9 581.2 1278Z" stroke="none"/><path d="M588.1 1278Q615.5 1277.8 642.9 1277.6" fill="none" stroke-width="19.2" stroke-linecap="round"/></g>
</g>
<g filter="url(#bl)">
<g fill="rgb(65,65,65)" stroke="rgb(65,65,65)"><path d="M317.8 1288.4C321.5 1281.7 375.5 1281.7 379.2 1288.4C375.5 1295.1 321.5 1295.1 317.8 1288.4Z" stroke="none"/><path d="M323.9 1288.4Q348.5 1288.4 373.1 1288.4" fill="none" stroke-width="8" stroke-linecap="round"/></g>
<g fill="rgb(112,112,112)" stroke="rgb(112,112,112)"><path d="M407.3 1284.5C410.7 1278.1 461.1 1276.4 464.5 1282C461.1 1288.4 410.7 1290.1 407.3 1284.5Z" stroke="none"/><path d="M413 1284.2Q435.9 1283.2 458.8 1282.2" fill="none" stroke-width="7.2" stroke-linecap="round"/></g>
<g fill="rgb(122,122,122)" stroke="rgb(122,122,122)"><path d="M492.5 1282C496.6 1276 557.4 1276 561.5 1282C557.4 1288 496.6 1288 492.5 1282Z" stroke="none"/><path d="M499.4 1282Q527 1282 554.6 1282" fill="none" stroke-width="7.2" stroke-linecap="round"/></g>
<g fill="rgb(60,60,60)" stroke="rgb(60,60,60)"><path d="M584.2 1278C588 1271.3 643 1271 646.8 1277.6C643 1284.3 588 1284.6 584.2 1278Z" stroke="none"/><path d="M590.5 1278Q615.5 1277.8 640.5 1277.6" fill="none" stroke-width="8" stroke-linecap="round"/></g>
</g></g>
<clipPath id="c3"><rect x="306.3" y="1331.5" width="345.7" height="41"/></clipPath>
<rect x="306.3" y="1331.5" width="345.7" height="41" fill="#eaeaea"/>
<g clip-path="url(#c3)">
<g filter="url(#bl2)" opacity="0.22">
<g fill="rgb(65,65,65)" stroke="rgb(65,65,65)"><path d="M317 1356.3C320.9 1341.9 378.1 1341.9 382 1356.3C378.1 1370.7 320.9 1370.7 317 1356.3Z" stroke="none"/><path d="M323.5 1356.3Q349.5 1356.3 375.5 1356.3" fill="none" stroke-width="17.3" stroke-linecap="round"/></g>
<g fill="rgb(60,60,60)" stroke="rgb(60,60,60)"><path d="M404.3 1352C408.1 1339.2 463.7 1339.2 467.5 1352C463.7 1364.8 408.1 1364.8 404.3 1352Z" stroke="none"/><path d="M410.6 1352Q435.9 1352 461.2 1352" fill="none" stroke-width="15.4" stroke-linecap="round"/></g>
<g fill="rgb(50,50,50)" stroke="rgb(50,50,50)"><path d="M489.5 1351C494.1 1337.5 561 1334.9 565.6 1347C561 1360.5 494.1 1363.1 489.5 1351Z" stroke="none"/><path d="M497.1 1350.6Q527.5 1349 558 1347.4" fill="none" stroke-width="15.4" stroke-linecap="round"/></g>
<g fill="rgb(45,45,45)" stroke="rgb(45,45,45)"><path d="M582.3 1345C585.9 1332.3 638.6 1330.9 642.2 1343C638.6 1359.7 585.9 1361.1 582.3 1345Z" stroke="none"/><path d="M588.3 1344.8Q612.2 1346.7 636.2 1343.2" fill="none" stroke-width="17.3" stroke-linecap="round"/></g>
</g>
<g filter="url(#bl)">
<g fill="rgb(65,65,65)" stroke="rgb(65,65,65)"><path d="M320 1356.3C323.5 1350.3 375.5 1350.3 379 1356.3C375.5 1362.3 323.5 1362.3 320 1356.3Z" stroke="none"/><path d="M325.9 1356.3Q349.5 1356.3 373.1 1356.3" fill="none" stroke-width="7.2" stroke-linecap="round"/></g>
<g fill="rgb(60,60,60)" stroke="rgb(60,60,60)"><path d="M407.3 1352C410.7 1346.7 461.1 1346.7 464.5 1352C461.1 1357.3 410.7 1357.3 407.3 1352Z" stroke="none"/><path d="M413 1352Q435.9 1352 458.8 1352" fill="none" stroke-width="6.4" stroke-linecap="round"/></g>
<g fill="rgb(50,50,50)" stroke="rgb(50,50,50)"><path d="M492.5 1351C496.7 1345 558.4 1342.3 562.6 1347C558.4 1353 496.7 1355.7 492.5 1351Z" stroke="none"/><path d="M499.5 1350.6Q527.5 1349 555.6 1347.4" fill="none" stroke-width="6.4" stroke-linecap="round"/></g>
<g fill="rgb(45,45,45)" stroke="rgb(45,45,45)"><path d="M585.3 1345C588.5 1340.7 636 1339.3 639.2 1343C636 1351.3 588.5 1352.7 585.3 1345Z" stroke="none"/><path d="M590.7 1344.8Q612.2 1346.7 633.8 1343.2" fill="none" stroke-width="7.2" stroke-linecap="round"/></g>
</g></g>
<clipPath id="c4"><rect x="306.3" y="1386.2" width="345.7" height="55"/></clipPath>
<rect x="306.3" y="1386.2" width="345.7" height="55" fill="#eaeaea"/>
<g clip-path="url(#c4)">
<g filter="url(#bl2)" opacity="0.22">
<g fill="rgb(130,130,130)" stroke="rgb(130,130,130)"><path d="M307.2 1418.5C311.4 1405.7 373.8 1405.7 378 1418.5C373.8 1431.3 311.4 1431.3 307.2 1418.5Z" stroke="none"/><path d="M314.3 1418.5Q342.6 1418.5 370.9 1418.5" fill="none" stroke-width="15.4" stroke-linecap="round"/></g>
<g fill="rgb(115,115,115)" stroke="rgb(115,115,115)"><path d="M396.7 1413.1C400.9 1400.3 462.2 1400.3 466.4 1413.1C462.2 1425.9 400.9 1425.9 396.7 1413.1Z" stroke="none"/><path d="M403.7 1413.1Q431.5 1413.1 459.4 1413.1" fill="none" stroke-width="15.4" stroke-linecap="round"/></g>
<g fill="rgb(125,125,125)" stroke="rgb(125,125,125)"><path d="M484.1 1413C488.9 1399.7 558.7 1397.7 563.5 1410C558.7 1423.3 488.9 1425.3 484.1 1413Z" stroke="none"/><path d="M492 1412.7Q523.8 1411.5 555.6 1410.3" fill="none" stroke-width="15.4" stroke-linecap="round"/></g>
<g fill="rgb(65,65,65)" stroke="rgb(65,65,65)"><path d="M578 1407.8C582.5 1393.4 648.5 1393.4 653 1407.8C648.5 1422.2 582.5 1422.2 578 1407.8Z" stroke="none"/><path d="M585.5 1407.8Q615.5 1407.8 645.5 1407.8" fill="none" stroke-width="17.3" stroke-linecap="round"/></g>
</g>
<g filter="url(#bl)">
<g fill="rgb(130,130,130)" stroke="rgb(130,130,130)"><path d="M310.2 1418.5C314.1 1413.2 371.1 1413.2 375 1418.5C371.1 1423.8 314.1 1423.8 310.2 1418.5Z" stroke="none"/><path d="M316.7 1418.5Q342.6 1418.5 368.5 1418.5" fill="none" stroke-width="6.4" stroke-linecap="round"/></g>
<g fill="rgb(115,115,115)" stroke="rgb(115,115,115)"><path d="M399.7 1413.1C403.5 1407.8 459.6 1407.8 463.4 1413.1C459.6 1418.4 403.5 1418.4 399.7 1413.1Z" stroke="none"/><path d="M406.1 1413.1Q431.5 1413.1 457 1413.1" fill="none" stroke-width="6.4" stroke-linecap="round"/></g>
<g fill="rgb(125,125,125)" stroke="rgb(125,125,125)"><path d="M487.1 1413C491.5 1407.2 556.1 1405.2 560.5 1410C556.1 1415.8 491.5 1417.8 487.1 1413Z" stroke="none"/><path d="M494.4 1412.7Q523.8 1411.5 553.2 1410.3" fill="none" stroke-width="6.4" stroke-linecap="round"/></g>
<g fill="rgb(65,65,65)" stroke="rgb(65,65,65)"><path d="M581 1407.8C585.1 1401.8 645.9 1401.8 650 1407.8C645.9 1413.8 585.1 1413.8 581 1407.8Z" stroke="none"/><path d="M587.9 1407.8Q615.5 1407.8 643.1 1407.8" fill="none" stroke-width="7.2" stroke-linecap="round"/></g>
</g></g>
<clipPath id="c5"><rect x="306.3" y="1454.1" width="345.7" height="40.6"/></clipPath>
<rect x="306.3" y="1454.1" width="345.7" height="40.6" fill="#eaeaea"/>
<g clip-path="url(#c5)">
<g filter="url(#bl2)" opacity="0.22">
<g fill="rgb(30,30,30)" stroke="rgb(30,30,30)"><path d="M310.4 1480C314.8 1467.2 378.9 1467.2 383.3 1480C378.9 1492.8 314.8 1492.8 310.4 1480Z" stroke="none"/><path d="M317.7 1480Q346.9 1480 376 1480" fill="none" stroke-width="15.4" stroke-linecap="round"/></g>
<g fill="rgb(30,30,30)" stroke="rgb(30,30,30)"><path d="M400 1478.5C404.1 1465.5 464.4 1464.9 468.5 1477.5C464.4 1490.5 404.1 1491.1 400 1478.5Z" stroke="none"/><path d="M406.9 1478.4Q434.2 1478 461.6 1477.6" fill="none" stroke-width="15.4" stroke-linecap="round"/></g>
<g fill="rgb(25,25,25)" stroke="rgb(25,25,25)"><path d="M487.4 1476C492.4 1464 565 1460.6 570 1471C565 1483 492.4 1486.4 487.4 1476Z" stroke="none"/><path d="M495.7 1475.5Q528.7 1473.5 561.7 1471.5" fill="none" stroke-width="13.4" stroke-linecap="round"/></g>
<g fill="rgb(28,28,28)" stroke="rgb(28,28,28)"><path d="M580 1469C584.2 1458.5 645.6 1454.5 649.8 1463C645.6 1480.1 584.2 1484.1 580 1469Z" stroke="none"/><path d="M587 1468.4Q614.9 1470.5 642.8 1463.6" fill="none" stroke-width="15.4" stroke-linecap="round"/></g>
</g>
<g filter="url(#bl)">
<g fill="rgb(30,30,30)" stroke="rgb(30,30,30)"><path d="M313.4 1480C317.4 1474.7 376.3 1474.7 380.3 1480C376.3 1485.3 317.4 1485.3 313.4 1480Z" stroke="none"/><path d="M320.1 1480Q346.9 1480 373.6 1480" fill="none" stroke-width="6.4" stroke-linecap="round"/></g>
<g fill="rgb(30,30,30)" stroke="rgb(30,30,30)"><path d="M403 1478.5C406.8 1473 461.8 1472.3 465.5 1477.5C461.8 1483 406.8 1483.7 403 1478.5Z" stroke="none"/><path d="M409.2 1478.4Q434.2 1478 459.2 1477.6" fill="none" stroke-width="6.4" stroke-linecap="round"/></g>
<g fill="rgb(25,25,25)" stroke="rgb(25,25,25)"><path d="M490.4 1476C495 1470.5 562.4 1467.2 567 1471C562.4 1476.5 495 1479.8 490.4 1476Z" stroke="none"/><path d="M498.1 1475.5Q528.7 1473.5 559.3 1471.5" fill="none" stroke-width="5.6" stroke-linecap="round"/></g>
<g fill="rgb(28,28,28)" stroke="rgb(28,28,28)"><path d="M583 1469C586.8 1466 643 1462 646.8 1463C643 1472.7 586.8 1476.6 583 1469Z" stroke="none"/><path d="M589.4 1468.4Q614.9 1470.5 640.4 1463.6" fill="none" stroke-width="6.4" stroke-linecap="round"/></g>
</g></g>
<clipPath id="c6"><rect x="306.3" y="1515.6" width="345.7" height="57.2"/></clipPath>
<rect x="306.3" y="1515.6" width="345.7" height="57.2" fill="#eaeaea"/>
<g clip-path="url(#c6)">
<g filter="url(#bl2)" opacity="0.22">
<g fill="rgb(62,62,62)" stroke="rgb(62,62,62)"><path d="M315.8 1543.5C320 1511.6 382.4 1511.9 386.6 1544C382.4 1575.9 320 1575.6 315.8 1543.5Z" stroke="none"/><path d="M322.9 1543.5Q351.2 1543.8 379.5 1544" fill="none" stroke-width="38.4" stroke-linecap="round"/></g>
<g fill="rgb(52,52,52)" stroke="rgb(52,52,52)"><path d="M401 1545C405.3 1513.1 468.6 1513.4 472.9 1545.5C468.6 1577.4 405.3 1577.1 401 1545Z" stroke="none"/><path d="M408.2 1545Q436.9 1545.2 465.7 1545.5" fill="none" stroke-width="38.4" stroke-linecap="round"/></g>
<g fill="rgb(62,62,62)" stroke="rgb(62,62,62)"><path d="M485.2 1545.5C490.3 1513.5 564.9 1513.5 570 1545.5C564.9 1577.5 490.3 1577.5 485.2 1545.5Z" stroke="none"/><path d="M493.7 1545.5Q527.6 1545.5 561.5 1545.5" fill="none" stroke-width="38.4" stroke-linecap="round"/></g>
<g fill="rgb(48,48,48)" stroke="rgb(48,48,48)"><path d="M574.7 1545C578.9 1511.8 641.3 1513.5 645.5 1547.5C641.3 1580.7 578.9 1579 574.7 1545Z" stroke="none"/><path d="M581.8 1545.2Q610.1 1546.2 638.4 1547.2" fill="none" stroke-width="40.3" stroke-linecap="round"/></g>
</g>
<g filter="url(#bl)">
<g fill="rgb(62,62,62)" stroke="rgb(62,62,62)"><path d="M318.8 1543.5C322.7 1530.3 379.7 1530.6 383.6 1544C379.7 1557.2 322.7 1556.9 318.8 1543.5Z" stroke="none"/><path d="M326.6 1543.6Q351.2 1543.8 375.8 1543.9" fill="none" stroke-width="19" stroke-linecap="round"/></g>
<g fill="rgb(52,52,52)" stroke="rgb(52,52,52)"><path d="M404 1545C408 1531.8 465.9 1532.1 469.9 1545.5C465.9 1558.7 408 1558.4 404 1545Z" stroke="none"/><path d="M411.9 1545.1Q436.9 1545.2 462 1545.4" fill="none" stroke-width="19" stroke-linecap="round"/></g>
<g fill="rgb(62,62,62)" stroke="rgb(62,62,62)"><path d="M488.2 1545.5C492.9 1532.2 562.3 1532.2 567 1545.5C562.3 1558.8 492.9 1558.8 488.2 1545.5Z" stroke="none"/><path d="M497.7 1545.5Q527.6 1545.5 557.5 1545.5" fill="none" stroke-width="19" stroke-linecap="round"/></g>
<g fill="rgb(48,48,48)" stroke="rgb(48,48,48)"><path d="M577.7 1545C581.6 1531.4 638.6 1533.1 642.5 1547.5C638.6 1561.1 581.6 1559.4 577.7 1545Z" stroke="none"/><path d="M585.5 1545.3Q610.1 1546.2 634.7 1547.2" fill="none" stroke-width="19.9" stroke-linecap="round"/></g>
</g></g>
<clipPath id="c7"><rect x="677.3" y="1176.2" width="345.6" height="55.6"/></clipPath>
<rect x="677.3" y="1176.2" width="345.6" height="55.6" fill="#eaeaea"/>
<g clip-path="url(#c7)">
<g filter="url(#bl2)" opacity="0.22">
<g fill="rgb(2,2,2)" stroke="rgb(2,2,2)"><path d="M680.7 1218C685.8 1198.1 760.4 1195.5 765.5 1214C760.4 1233.9 685.8 1236.5 680.7 1218Z" stroke="none"/><path d="M689.2 1217.6Q723.1 1216 757 1214.4" fill="none" stroke-width="23" stroke-linecap="round"/></g>
<g fill="rgb(8,8,8)" stroke="rgb(8,8,8)"><path d="M776.7 1213C780.9 1197 842.2 1197 846.4 1213C842.2 1229 780.9 1229 776.7 1213Z" stroke="none"/><path d="M783.7 1213Q811.5 1213 839.4 1213" fill="none" stroke-width="19.2" stroke-linecap="round"/></g>
<g fill="rgb(25,25,25)" stroke="rgb(25,25,25)"><path d="M857.6 1213C861.6 1199 921.1 1194.4 925.1 1206C921.1 1220 861.6 1224.6 857.6 1213Z" stroke="none"/><path d="M864.4 1212.3Q891.4 1209.5 918.4 1206.7" fill="none" stroke-width="15.4" stroke-linecap="round"/></g>
<g fill="rgb(45,45,45)" stroke="rgb(45,45,45)"><path d="M935.3 1202C940.4 1188.9 1016 1178.3 1021.1 1186C1016 1199.1 940.4 1209.7 935.3 1202Z" stroke="none"/><path d="M943.9 1200.4Q978.2 1194 1012.5 1187.6" fill="none" stroke-width="12.5" stroke-linecap="round"/></g>
<g fill="rgb(20,20,20)" stroke="rgb(20,20,20)"><path d="M937 1203C938.9 1191.3 966.1 1189.3 968 1200C966.1 1211.7 938.9 1213.7 937 1203Z" stroke="none"/><path d="M940.1 1202.7Q952.5 1201.5 964.9 1200.3" fill="none" stroke-width="13.4" stroke-linecap="round"/></g>
<g fill="rgb(190,190,190)" stroke="rgb(190,190,190)"><path d="M942 1228C945.7 1218.6 999.3 1213.4 1003 1220C999.3 1229.4 945.7 1234.6 942 1228Z" stroke="none"/><path d="M948.1 1227.2Q972.5 1224 996.9 1220.8" fill="none" stroke-width="9.6" stroke-linecap="round"/></g>
</g>
<g filter="url(#bl)">
<g fill="rgb(2,2,2)" stroke="rgb(2,2,2)"><path d="M683.7 1218C688.4 1209.3 757.8 1206.7 762.5 1214C757.8 1222.7 688.4 1225.3 683.7 1218Z" stroke="none"/><path d="M691.6 1217.6Q723.1 1216 754.6 1214.4" fill="none" stroke-width="9.6" stroke-linecap="round"/></g>
<g fill="rgb(8,8,8)" stroke="rgb(8,8,8)"><path d="M779.7 1213C783.5 1206.3 839.6 1206.3 843.4 1213C839.6 1219.7 783.5 1219.7 779.7 1213Z" stroke="none"/><path d="M786.1 1213Q811.5 1213 837 1213" fill="none" stroke-width="8" stroke-linecap="round"/></g>
<g fill="rgb(25,25,25)" stroke="rgb(25,25,25)"><path d="M860.6 1213C864.3 1206.5 918.4 1201.9 922.1 1206C918.4 1212.5 864.3 1217.1 860.6 1213Z" stroke="none"/><path d="M866.8 1212.3Q891.4 1209.5 916 1206.7" fill="none" stroke-width="6.4" stroke-linecap="round"/></g>
<g fill="rgb(45,45,45)" stroke="rgb(45,45,45)"><path d="M938.3 1202C943.1 1194.9 1013.3 1184.4 1018.1 1186C1013.3 1193.1 943.1 1203.6 938.3 1202Z" stroke="none"/><path d="M946.3 1200.4Q978.2 1194 1010.1 1187.6" fill="none" stroke-width="5.2" stroke-linecap="round"/></g>
<g fill="rgb(20,20,20)" stroke="rgb(20,20,20)"><path d="M940 1203C941.5 1197.8 963.5 1195.8 965 1200C963.5 1205.2 941.5 1207.2 940 1203Z" stroke="none"/><path d="M942.5 1202.7Q952.5 1201.5 962.5 1200.3" fill="none" stroke-width="5.6" stroke-linecap="round"/></g>
<g fill="rgb(190,190,190)" stroke="rgb(190,190,190)"><path d="M945 1228C948.3 1223.3 996.7 1218 1000 1220C996.7 1224.7 948.3 1230 945 1228Z" stroke="none"/><path d="M950.5 1227.2Q972.5 1224 994.5 1220.8" fill="none" stroke-width="4" stroke-linecap="round"/></g>
</g></g>
<clipPath id="c8"><rect x="677.3" y="1254.9" width="345.6" height="55.7"/></clipPath>
<rect x="677.3" y="1254.9" width="345.6" height="55.7" fill="#eaeaea"/>
<g clip-path="url(#c8)">
<g filter="url(#bl2)" opacity="0.22">
<g fill="rgb(45,45,45)" stroke="rgb(45,45,45)"><path d="M682.9 1296.4C687.4 1280.4 753.4 1280.4 757.9 1296.4C753.4 1312.4 687.4 1312.4 682.9 1296.4Z" stroke="none"/><path d="M690.4 1296.4Q720.4 1296.4 750.4 1296.4" fill="none" stroke-width="19.2" stroke-linecap="round"/></g>
<g fill="rgb(115,115,115)" stroke="rgb(115,115,115)"><path d="M769.2 1293.8C773.3 1279.4 833.7 1279.4 837.8 1293.8C833.7 1308.2 773.3 1308.2 769.2 1293.8Z" stroke="none"/><path d="M776.1 1293.8Q803.5 1293.8 830.9 1293.8" fill="none" stroke-width="17.3" stroke-linecap="round"/></g>
<g fill="rgb(125,125,125)" stroke="rgb(125,125,125)"><path d="M852.3 1290.5C856 1276.6 909.6 1272.3 913.3 1284C909.6 1297.9 856 1302.2 852.3 1290.5Z" stroke="none"/><path d="M858.4 1289.8Q882.8 1287.2 907.2 1284.7" fill="none" stroke-width="15.4" stroke-linecap="round"/></g>
<g fill="rgb(168,168,168)" stroke="rgb(168,168,168)"><path d="M927.8 1280C933.1 1266.4 1011.5 1257.2 1016.8 1266C1011.5 1279.6 933.1 1288.8 927.8 1280Z" stroke="none"/><path d="M936.7 1278.6Q972.3 1273 1007.9 1267.4" fill="none" stroke-width="13.4" stroke-linecap="round"/></g>
</g>
<g filter="url(#bl)">
<g fill="rgb(45,45,45)" stroke="rgb(45,45,45)"><path d="M685.9 1296.4C690 1289.7 750.8 1289.7 754.9 1296.4C750.8 1303.1 690 1303.1 685.9 1296.4Z" stroke="none"/><path d="M692.8 1296.4Q720.4 1296.4 748 1296.4" fill="none" stroke-width="8" stroke-linecap="round"/></g>
<g fill="rgb(115,115,115)" stroke="rgb(115,115,115)"><path d="M772.2 1293.8C776 1287.8 831 1287.8 834.8 1293.8C831 1299.8 776 1299.8 772.2 1293.8Z" stroke="none"/><path d="M778.5 1293.8Q803.5 1293.8 828.5 1293.8" fill="none" stroke-width="7.2" stroke-linecap="round"/></g>
<g fill="rgb(125,125,125)" stroke="rgb(125,125,125)"><path d="M855.3 1290.5C858.6 1284.1 907 1279.8 910.3 1284C907 1290.4 858.6 1294.7 855.3 1290.5Z" stroke="none"/><path d="M860.8 1289.8Q882.8 1287.2 904.8 1284.7" fill="none" stroke-width="6.4" stroke-linecap="round"/></g>
<g fill="rgb(168,168,168)" stroke="rgb(168,168,168)"><path d="M930.8 1280C935.8 1273 1008.8 1263.7 1013.8 1266C1008.8 1273 935.8 1282.3 930.8 1280Z" stroke="none"/><path d="M939.1 1278.6Q972.3 1273 1005.5 1267.4" fill="none" stroke-width="5.6" stroke-linecap="round"/></g>
</g></g>
<clipPath id="c9"><rect x="677.3" y="1333.2" width="345.6" height="43.6"/></clipPath>
<rect x="677.3" y="1333.2" width="345.6" height="43.6" fill="#eaeaea"/>
<g clip-path="url(#c9)">
<g filter="url(#bl2)" opacity="0.22">
<g fill="rgb(45,45,45)" stroke="rgb(45,45,45)"><path d="M680.7 1358.5C685.3 1342.5 753.3 1342.5 757.9 1358.5C753.3 1374.5 685.3 1374.5 680.7 1358.5Z" stroke="none"/><path d="M688.4 1358.5Q719.3 1358.5 750.2 1358.5" fill="none" stroke-width="19.2" stroke-linecap="round"/></g>
<g fill="rgb(75,75,75)" stroke="rgb(75,75,75)"><path d="M768 1357C772.6 1343.9 840.7 1342.5 845.3 1355C840.7 1368.1 772.6 1369.5 768 1357Z" stroke="none"/><path d="M775.7 1356.8Q806.6 1356 837.6 1355.2" fill="none" stroke-width="15.4" stroke-linecap="round"/></g>
<g fill="rgb(75,75,75)" stroke="rgb(75,75,75)"><path d="M855.5 1354C859.5 1340.7 919 1338.7 923 1351C919 1364.3 859.5 1366.3 855.5 1354Z" stroke="none"/><path d="M862.2 1353.7Q889.2 1352.5 916.2 1351.3" fill="none" stroke-width="15.4" stroke-linecap="round"/></g>
<g fill="rgb(125,125,125)" stroke="rgb(125,125,125)"><path d="M932.1 1346.6C937.2 1333.6 1011.7 1326.4 1016.8 1335.8C1011.7 1348.8 937.2 1356 932.1 1346.6Z" stroke="none"/><path d="M940.6 1345.5Q974.5 1341.2 1008.3 1336.9" fill="none" stroke-width="13.4" stroke-linecap="round"/></g>
</g>
<g filter="url(#bl)">
<g fill="rgb(45,45,45)" stroke="rgb(45,45,45)"><path d="M683.7 1358.5C688 1351.8 750.6 1351.8 754.9 1358.5C750.6 1365.2 688 1365.2 683.7 1358.5Z" stroke="none"/><path d="M690.8 1358.5Q719.3 1358.5 747.8 1358.5" fill="none" stroke-width="8" stroke-linecap="round"/></g>
<g fill="rgb(75,75,75)" stroke="rgb(75,75,75)"><path d="M771 1357C775.3 1351.3 838 1350 842.3 1355C838 1360.7 775.3 1362 771 1357Z" stroke="none"/><path d="M778.1 1356.8Q806.6 1356 835.2 1355.2" fill="none" stroke-width="6.4" stroke-linecap="round"/></g>
<g fill="rgb(75,75,75)" stroke="rgb(75,75,75)"><path d="M858.5 1354C862.2 1348.2 916.3 1346.2 920 1351C916.3 1356.8 862.2 1358.8 858.5 1354Z" stroke="none"/><path d="M864.6 1353.7Q889.2 1352.5 913.9 1351.3" fill="none" stroke-width="6.4" stroke-linecap="round"/></g>
<g fill="rgb(125,125,125)" stroke="rgb(125,125,125)"><path d="M935.1 1346.6C939.8 1340.1 1009.1 1333 1013.8 1335.8C1009.1 1342.3 939.8 1349.4 935.1 1346.6Z" stroke="none"/><path d="M943 1345.5Q974.5 1341.2 1005.9 1336.9" fill="none" stroke-width="5.6" stroke-linecap="round"/></g>
</g></g>
<clipPath id="c10"><rect x="677.3" y="1385.1" width="345.6" height="56.5"/></clipPath>
<rect x="677.3" y="1385.1" width="345.6" height="56.5" fill="#eaeaea"/>
<g clip-path="url(#c10)">
<g filter="url(#bl2)" opacity="0.22">
<g fill="rgb(35,35,35)" stroke="rgb(35,35,35)"><path d="M680.7 1431C685.8 1416.1 760.4 1414.1 765.5 1428C760.4 1442.9 685.8 1444.9 680.7 1431Z" stroke="none"/><path d="M689.2 1430.7Q723.1 1429.5 757 1428.3" fill="none" stroke-width="17.3" stroke-linecap="round"/></g>
<g fill="rgb(75,75,75)" stroke="rgb(75,75,75)"><path d="M776.7 1426.5C780.7 1413.7 839.2 1413.7 843.2 1426.5C839.2 1439.3 780.7 1439.3 776.7 1426.5Z" stroke="none"/><path d="M783.4 1426.5Q810 1426.5 836.6 1426.5" fill="none" stroke-width="15.4" stroke-linecap="round"/></g>
<g fill="rgb(85,85,85)" stroke="rgb(85,85,85)"><path d="M855.5 1425C859.4 1411.7 916.9 1409.5 920.8 1421.8C916.9 1435.1 859.4 1437.3 855.5 1425Z" stroke="none"/><path d="M862 1424.7Q888.1 1423.4 914.3 1422.1" fill="none" stroke-width="15.4" stroke-linecap="round"/></g>
<g fill="rgb(105,105,105)" stroke="rgb(105,105,105)"><path d="M936.4 1414C941.2 1399.9 1012 1388.7 1016.8 1397C1012 1411.1 941.2 1422.3 936.4 1414Z" stroke="none"/><path d="M944.4 1412.3Q976.6 1405.5 1008.8 1398.7" fill="none" stroke-width="13.4" stroke-linecap="round"/></g>
</g>
<g filter="url(#bl)">
<g fill="rgb(35,35,35)" stroke="rgb(35,35,35)"><path d="M683.7 1431C688.4 1424.5 757.8 1422.5 762.5 1428C757.8 1434.5 688.4 1436.5 683.7 1431Z" stroke="none"/><path d="M691.6 1430.7Q723.1 1429.5 754.6 1428.3" fill="none" stroke-width="7.2" stroke-linecap="round"/></g>
<g fill="rgb(75,75,75)" stroke="rgb(75,75,75)"><path d="M779.7 1426.5C783.3 1421.2 836.6 1421.2 840.2 1426.5C836.6 1431.8 783.3 1431.8 779.7 1426.5Z" stroke="none"/><path d="M785.8 1426.5Q810 1426.5 834.2 1426.5" fill="none" stroke-width="6.4" stroke-linecap="round"/></g>
<g fill="rgb(85,85,85)" stroke="rgb(85,85,85)"><path d="M858.5 1425C862.1 1419.1 914.2 1417 917.8 1421.8C914.2 1427.7 862.1 1429.8 858.5 1425Z" stroke="none"/><path d="M864.4 1424.7Q888.1 1423.4 911.9 1422.1" fill="none" stroke-width="6.4" stroke-linecap="round"/></g>
<g fill="rgb(105,105,105)" stroke="rgb(105,105,105)"><path d="M939.4 1414C943.9 1406.4 1009.3 1395.2 1013.8 1397C1009.3 1404.6 943.9 1415.8 939.4 1414Z" stroke="none"/><path d="M946.8 1412.3Q976.6 1405.5 1006.4 1398.7" fill="none" stroke-width="5.6" stroke-linecap="round"/></g>
</g></g>
<clipPath id="c11"><rect x="677.3" y="1454.1" width="345.6" height="39.5"/></clipPath>
<rect x="677.3" y="1454.1" width="345.6" height="39.5" fill="#eaeaea"/>
<g clip-path="url(#c11)">
<g filter="url(#bl2)" opacity="0.22">
<g fill="rgb(15,15,15)" stroke="rgb(15,15,15)"><path d="M679.7 1482C684.5 1473.3 754.2 1475.3 759 1485C754.2 1497.7 684.5 1495.7 679.7 1482Z" stroke="none"/><path d="M687.6 1482.3Q719.4 1486.2 751.1 1484.7" fill="none" stroke-width="13.4" stroke-linecap="round"/></g>
<g fill="rgb(25,25,25)" stroke="rgb(25,25,25)"><path d="M764.9 1486.5C769.7 1474.4 840.5 1470.7 845.3 1481C840.5 1493.1 769.7 1496.8 764.9 1486.5Z" stroke="none"/><path d="M772.9 1486Q805.1 1483.8 837.3 1481.5" fill="none" stroke-width="13.4" stroke-linecap="round"/></g>
<g fill="rgb(45,45,45)" stroke="rgb(45,45,45)"><path d="M851.2 1482C855.4 1470.5 916.6 1469.1 920.8 1480C916.6 1491.5 855.4 1492.9 851.2 1482Z" stroke="none"/><path d="M858.2 1481.8Q886 1481 913.8 1480.2" fill="none" stroke-width="13.4" stroke-linecap="round"/></g>
<g fill="rgb(135,135,135)" stroke="rgb(135,135,135)"><path d="M924.5 1476C930.4 1464.2 1017.4 1455.6 1023.3 1463C1017.4 1474.8 930.4 1483.4 924.5 1476Z" stroke="none"/><path d="M934.4 1474.7Q973.9 1469.5 1013.4 1464.3" fill="none" stroke-width="11.5" stroke-linecap="round"/></g>
</g>
<g filter="url(#bl)">
<g fill="rgb(15,15,15)" stroke="rgb(15,15,15)"><path d="M682.7 1482C687.1 1479.8 751.6 1481.8 756 1485C751.6 1491.2 687.1 1489.2 682.7 1482Z" stroke="none"/><path d="M690 1482.3Q719.4 1486.2 748.7 1484.7" fill="none" stroke-width="5.6" stroke-linecap="round"/></g>
<g fill="rgb(25,25,25)" stroke="rgb(25,25,25)"><path d="M767.9 1486.5C772.4 1480.9 837.8 1477.3 842.3 1481C837.8 1486.6 772.4 1490.2 767.9 1486.5Z" stroke="none"/><path d="M775.3 1486Q805.1 1483.8 834.9 1481.5" fill="none" stroke-width="5.6" stroke-linecap="round"/></g>
<g fill="rgb(45,45,45)" stroke="rgb(45,45,45)"><path d="M854.2 1482C858 1477 914 1475.7 917.8 1480C914 1485 858 1486.3 854.2 1482Z" stroke="none"/><path d="M860.6 1481.8Q886 1481 911.4 1480.2" fill="none" stroke-width="5.6" stroke-linecap="round"/></g>
<g fill="rgb(135,135,135)" stroke="rgb(135,135,135)"><path d="M927.5 1476C933.1 1469.8 1014.7 1461.2 1020.3 1463C1014.7 1469.2 933.1 1477.8 927.5 1476Z" stroke="none"/><path d="M936.8 1474.7Q973.9 1469.5 1011 1464.3" fill="none" stroke-width="4.8" stroke-linecap="round"/></g>
</g></g>
<clipPath id="c12"><rect x="677.3" y="1516.3" width="345.6" height="56.5"/></clipPath>
<rect x="677.3" y="1516.3" width="345.6" height="56.5" fill="#eaeaea"/>
<g clip-path="url(#c12)">
<g filter="url(#bl2)" opacity="0.22">
<g fill="rgb(30,30,30)" stroke="rgb(30,30,30)"><path d="M680.7 1547C686 1514 763.4 1514.6 768.7 1548C763.4 1585 686 1584.4 680.7 1547Z" stroke="none"/><path d="M689.5 1547.1Q724.7 1550.2 759.9 1547.9" fill="none" stroke-width="42.2" stroke-linecap="round"/></g>
<g fill="rgb(22,22,22)" stroke="rgb(22,22,22)"><path d="M766 1551C771.1 1517.4 845.6 1517.4 850.7 1551C845.6 1584.6 771.1 1584.6 766 1551Z" stroke="none"/><path d="M774.5 1551Q808.4 1551 842.2 1551" fill="none" stroke-width="40.3" stroke-linecap="round"/></g>
<g fill="rgb(35,35,35)" stroke="rgb(35,35,35)"><path d="M850.1 1551C854.5 1517.4 919.7 1517.4 924.1 1551C919.7 1584.6 854.5 1584.6 850.1 1551Z" stroke="none"/><path d="M857.5 1551Q887.1 1551 916.7 1551" fill="none" stroke-width="40.3" stroke-linecap="round"/></g>
<g fill="rgb(42,42,42)" stroke="rgb(42,42,42)"><path d="M919.1 1550C925.4 1517.9 1017 1511.3 1023.3 1540C1017 1572.1 925.4 1578.7 919.1 1550Z" stroke="none"/><path d="M929.5 1549Q971.2 1545 1012.9 1541" fill="none" stroke-width="36.5" stroke-linecap="round"/></g>
</g>
<g filter="url(#bl)">
<g fill="rgb(30,30,30)" stroke="rgb(30,30,30)"><path d="M683.7 1547C688.6 1534.5 760.8 1535.2 765.7 1548C760.8 1564.5 688.6 1563.8 683.7 1547Z" stroke="none"/><path d="M693.5 1547.1Q724.7 1550.2 755.9 1547.9" fill="none" stroke-width="20.9" stroke-linecap="round"/></g>
<g fill="rgb(22,22,22)" stroke="rgb(22,22,22)"><path d="M769 1551C773.7 1537 843 1537 847.7 1551C843 1565 773.7 1565 769 1551Z" stroke="none"/><path d="M778.4 1551Q808.4 1551 838.3 1551" fill="none" stroke-width="19.9" stroke-linecap="round"/></g>
<g fill="rgb(35,35,35)" stroke="rgb(35,35,35)"><path d="M853.1 1551C857.2 1537 917 1537 921.1 1551C917 1565 857.2 1565 853.1 1551Z" stroke="none"/><path d="M861.3 1551Q887.1 1551 912.9 1551" fill="none" stroke-width="19.9" stroke-linecap="round"/></g>
<g fill="rgb(42,42,42)" stroke="rgb(42,42,42)"><path d="M922.1 1550C928 1535.6 1014.4 1529 1020.3 1540C1014.4 1554.4 928 1561 922.1 1550Z" stroke="none"/><path d="M933.9 1548.8Q971.2 1545 1008.5 1541.2" fill="none" stroke-width="17.1" stroke-linecap="round"/></g>
</g></g>
<clipPath id="c13"><rect x="1088.3" y="1190.9" width="349.5" height="48.9"/></clipPath>
<rect x="1088.3" y="1190.9" width="349.5" height="48.9" fill="#f0f0f0"/>
<g clip-path="url(#c13)">
<g filter="url(#bl2)" opacity="0.22">
<g fill="rgb(105,105,105)" stroke="rgb(105,105,105)"><path d="M1090.7 1196C1094.9 1186 1157.3 1190.6 1161.5 1203C1157.3 1213 1094.9 1208.4 1090.7 1196Z" stroke="none"/><path d="M1097.8 1196.7Q1126.1 1199.5 1154.4 1202.3" fill="none" stroke-width="13.4" stroke-linecap="round"/></g>
<g fill="rgb(115,115,115)" stroke="rgb(115,115,115)"><path d="M1174.9 1208.5C1179.3 1197.3 1244.4 1197.3 1248.8 1208.5C1244.4 1219.7 1179.3 1219.7 1174.9 1208.5Z" stroke="none"/><path d="M1182.3 1208.5Q1211.8 1208.5 1241.4 1208.5" fill="none" stroke-width="13.4" stroke-linecap="round"/></g>
<g fill="rgb(125,125,125)" stroke="rgb(125,125,125)"><path d="M1265.5 1210.7C1270.4 1199.5 1342.1 1199.5 1347 1210.7C1342.1 1221.9 1270.4 1221.9 1265.5 1210.7Z" stroke="none"/><path d="M1273.7 1210.7Q1306.2 1210.7 1338.8 1210.7" fill="none" stroke-width="13.4" stroke-linecap="round"/></g>
<g fill="rgb(95,95,95)" stroke="rgb(95,95,95)"><path d="M1360.4 1208.5C1365 1197 1433 1196.1 1437.6 1207C1433 1218.5 1365 1219.4 1360.4 1208.5Z" stroke="none"/><path d="M1368.1 1208.3Q1399 1207.8 1429.9 1207.2" fill="none" stroke-width="13.4" stroke-linecap="round"/></g>
</g>
<g filter="url(#bl)">
<g fill="rgb(105,105,105)" stroke="rgb(105,105,105)"><path d="M1093.7 1196C1097.6 1192.5 1154.6 1197.1 1158.5 1203C1154.6 1206.5 1097.6 1201.9 1093.7 1196Z" stroke="none"/><path d="M1100.2 1196.7Q1126.1 1199.5 1152 1202.3" fill="none" stroke-width="5.6" stroke-linecap="round"/></g>
<g fill="rgb(115,115,115)" stroke="rgb(115,115,115)"><path d="M1177.9 1208.5C1182 1203.8 1241.7 1203.8 1245.8 1208.5C1241.7 1213.2 1182 1213.2 1177.9 1208.5Z" stroke="none"/><path d="M1184.7 1208.5Q1211.8 1208.5 1239 1208.5" fill="none" stroke-width="5.6" stroke-linecap="round"/></g>
<g fill="rgb(125,125,125)" stroke="rgb(125,125,125)"><path d="M1268.5 1210.7C1273 1206 1339.5 1206 1344 1210.7C1339.5 1215.4 1273 1215.4 1268.5 1210.7Z" stroke="none"/><path d="M1276 1210.7Q1306.2 1210.7 1336.5 1210.7" fill="none" stroke-width="5.6" stroke-linecap="round"/></g>
<g fill="rgb(95,95,95)" stroke="rgb(95,95,95)"><path d="M1363.4 1208.5C1367.7 1203.6 1430.3 1202.6 1434.6 1207C1430.3 1211.9 1367.7 1212.9 1363.4 1208.5Z" stroke="none"/><path d="M1370.5 1208.3Q1399 1207.8 1427.5 1207.2" fill="none" stroke-width="5.6" stroke-linecap="round"/></g>
</g></g>
<clipPath id="c14"><rect x="1088.3" y="1254.9" width="349.5" height="48.6"/></clipPath>
<rect x="1088.3" y="1254.9" width="349.5" height="48.6" fill="#f0f0f0"/>
<g clip-path="url(#c14)">
<g filter="url(#bl2)" opacity="0.22">
<g fill="rgb(95,95,95)" stroke="rgb(95,95,95)"><path d="M1088.6 1267C1093.1 1257 1159.1 1261.6 1163.6 1274C1159.1 1284 1093.1 1279.4 1088.6 1267Z" stroke="none"/><path d="M1096.1 1267.7Q1126.1 1270.5 1156.1 1273.3" fill="none" stroke-width="13.4" stroke-linecap="round"/></g>
<g fill="rgb(75,75,75)" stroke="rgb(75,75,75)"><path d="M1174.9 1278C1179.6 1265.2 1248.5 1265.2 1253.2 1278C1248.5 1290.8 1179.6 1290.8 1174.9 1278Z" stroke="none"/><path d="M1182.7 1278Q1214.1 1278 1245.4 1278" fill="none" stroke-width="15.4" stroke-linecap="round"/></g>
<g fill="rgb(85,85,85)" stroke="rgb(85,85,85)"><path d="M1265.5 1278C1270.5 1265.2 1343 1265.2 1348 1278C1343 1290.8 1270.5 1290.8 1265.5 1278Z" stroke="none"/><path d="M1273.8 1278Q1306.8 1278 1339.8 1278" fill="none" stroke-width="15.4" stroke-linecap="round"/></g>
<g fill="rgb(85,85,85)" stroke="rgb(85,85,85)"><path d="M1358.3 1277C1362.9 1264.1 1430.9 1263.8 1435.5 1276.5C1430.9 1289.4 1362.9 1289.7 1358.3 1277Z" stroke="none"/><path d="M1366 1277Q1396.9 1276.8 1427.8 1276.5" fill="none" stroke-width="15.4" stroke-linecap="round"/></g>
</g>
<g filter="url(#bl)">
<g fill="rgb(95,95,95)" stroke="rgb(95,95,95)"><path d="M1091.6 1267C1095.7 1263.5 1156.5 1268.1 1160.6 1274C1156.5 1277.5 1095.7 1272.9 1091.6 1267Z" stroke="none"/><path d="M1098.5 1267.7Q1126.1 1270.5 1153.7 1273.3" fill="none" stroke-width="5.6" stroke-linecap="round"/></g>
<g fill="rgb(75,75,75)" stroke="rgb(75,75,75)"><path d="M1177.9 1278C1182.2 1272.7 1245.9 1272.7 1250.2 1278C1245.9 1283.3 1182.2 1283.3 1177.9 1278Z" stroke="none"/><path d="M1185.1 1278Q1214.1 1278 1243 1278" fill="none" stroke-width="6.4" stroke-linecap="round"/></g>
<g fill="rgb(85,85,85)" stroke="rgb(85,85,85)"><path d="M1268.5 1278C1273.1 1272.7 1340.4 1272.7 1345 1278C1340.4 1283.3 1273.1 1283.3 1268.5 1278Z" stroke="none"/><path d="M1276.2 1278Q1306.8 1278 1337.3 1278" fill="none" stroke-width="6.4" stroke-linecap="round"/></g>
<g fill="rgb(85,85,85)" stroke="rgb(85,85,85)"><path d="M1361.3 1277C1365.6 1271.6 1428.2 1271.3 1432.5 1276.5C1428.2 1281.9 1365.6 1282.2 1361.3 1277Z" stroke="none"/><path d="M1368.4 1277Q1396.9 1276.8 1425.4 1276.5" fill="none" stroke-width="6.4" stroke-linecap="round"/></g>
</g></g>
<clipPath id="c15"><rect x="1088.3" y="1323.3" width="349.5" height="51.4"/></clipPath>
<rect x="1088.3" y="1323.3" width="349.5" height="51.4" fill="#f0f0f0"/>
<g clip-path="url(#c15)">
<g filter="url(#bl2)" opacity="0.22">
<g fill="rgb(75,75,75)" stroke="rgb(75,75,75)"><path d="M1085.3 1335C1090 1324.5 1158.9 1327.1 1163.6 1339C1158.9 1349.5 1090 1346.9 1085.3 1335Z" stroke="none"/><path d="M1093.1 1335.4Q1124.4 1337 1155.8 1338.6" fill="none" stroke-width="13.4" stroke-linecap="round"/></g>
<g fill="rgb(85,85,85)" stroke="rgb(85,85,85)"><path d="M1173.8 1343.4C1178.6 1332.2 1249.4 1332.2 1254.2 1343.4C1249.4 1354.6 1178.6 1354.6 1173.8 1343.4Z" stroke="none"/><path d="M1181.8 1343.4Q1214 1343.4 1246.2 1343.4" fill="none" stroke-width="13.4" stroke-linecap="round"/></g>
<g fill="rgb(55,55,55)" stroke="rgb(55,55,55)"><path d="M1264.4 1343.8C1269.4 1331 1342 1331 1347 1343.8C1342 1356.6 1269.4 1356.6 1264.4 1343.8Z" stroke="none"/><path d="M1272.7 1343.8Q1305.7 1343.8 1338.7 1343.8" fill="none" stroke-width="15.4" stroke-linecap="round"/></g>
<g fill="rgb(35,35,35)" stroke="rgb(35,35,35)"><path d="M1358.3 1343C1363.1 1330.2 1432.8 1330.2 1437.6 1343C1432.8 1355.8 1363.1 1355.8 1358.3 1343Z" stroke="none"/><path d="M1366.2 1343Q1397.9 1343 1429.7 1343" fill="none" stroke-width="15.4" stroke-linecap="round"/></g>
</g>
<g filter="url(#bl)">
<g fill="rgb(75,75,75)" stroke="rgb(75,75,75)"><path d="M1088.3 1335C1092.6 1331 1156.3 1333.7 1160.6 1339C1156.3 1343 1092.6 1340.3 1088.3 1335Z" stroke="none"/><path d="M1095.5 1335.4Q1124.4 1337 1153.4 1338.6" fill="none" stroke-width="5.6" stroke-linecap="round"/></g>
<g fill="rgb(85,85,85)" stroke="rgb(85,85,85)"><path d="M1176.8 1343.4C1181.3 1338.7 1246.7 1338.7 1251.2 1343.4C1246.7 1348.1 1181.3 1348.1 1176.8 1343.4Z" stroke="none"/><path d="M1184.2 1343.4Q1214 1343.4 1243.8 1343.4" fill="none" stroke-width="5.6" stroke-linecap="round"/></g>
<g fill="rgb(55,55,55)" stroke="rgb(55,55,55)"><path d="M1267.4 1343.8C1272 1338.5 1339.4 1338.5 1344 1343.8C1339.4 1349.1 1272 1349.1 1267.4 1343.8Z" stroke="none"/><path d="M1275.1 1343.8Q1305.7 1343.8 1336.3 1343.8" fill="none" stroke-width="6.4" stroke-linecap="round"/></g>
<g fill="rgb(35,35,35)" stroke="rgb(35,35,35)"><path d="M1361.3 1343C1365.7 1337.7 1430.2 1337.7 1434.6 1343C1430.2 1348.3 1365.7 1348.3 1361.3 1343Z" stroke="none"/><path d="M1368.6 1343Q1397.9 1343 1427.3 1343" fill="none" stroke-width="6.4" stroke-linecap="round"/></g>
</g></g>
<clipPath id="c16"><rect x="1088.3" y="1394.2" width="349.5" height="55.2"/></clipPath>
<rect x="1088.3" y="1394.2" width="349.5" height="55.2" fill="#f0f0f0"/>
<g clip-path="url(#c16)">
<g filter="url(#bl2)" opacity="0.22">
<g fill="rgb(55,55,55)" stroke="rgb(55,55,55)"><path d="M1088.6 1413C1093.1 1401.5 1159.1 1406.6 1163.6 1420.7C1159.1 1432.2 1093.1 1427.1 1088.6 1413Z" stroke="none"/><path d="M1096.1 1413.8Q1126.1 1416.8 1156.1 1419.9" fill="none" stroke-width="15.4" stroke-linecap="round"/></g>
<g fill="rgb(165,165,165)" stroke="rgb(165,165,165)"><path d="M1099 1441C1102.8 1433.7 1159.2 1436.3 1163 1445C1159.2 1452.3 1102.8 1449.7 1099 1441Z" stroke="none"/><path d="M1105.4 1441.4Q1131 1443 1156.6 1444.6" fill="none" stroke-width="9.6" stroke-linecap="round"/></g>
<g fill="rgb(60,60,60)" stroke="rgb(60,60,60)"><path d="M1177 1427.2C1181.6 1414.4 1249.6 1414.4 1254.2 1427.2C1249.6 1440 1181.6 1440 1177 1427.2Z" stroke="none"/><path d="M1184.7 1427.2Q1215.6 1427.2 1246.5 1427.2" fill="none" stroke-width="15.4" stroke-linecap="round"/></g>
<g fill="rgb(65,65,65)" stroke="rgb(65,65,65)"><path d="M1265.5 1428.3C1270.5 1415.5 1344.2 1415.5 1349.2 1428.3C1344.2 1441.1 1270.5 1441.1 1265.5 1428.3Z" stroke="none"/><path d="M1273.9 1428.3Q1307.3 1428.3 1340.8 1428.3" fill="none" stroke-width="15.4" stroke-linecap="round"/></g>
<g fill="rgb(45,45,45)" stroke="rgb(45,45,45)"><path d="M1360.4 1427C1365 1411.2 1433 1409.9 1437.6 1425C1433 1435.5 1365 1436.8 1360.4 1427Z" stroke="none"/><path d="M1368.1 1426.8Q1399 1422.4 1429.9 1425.2" fill="none" stroke-width="15.4" stroke-linecap="round"/></g>
</g>
<g filter="url(#bl)">
<g fill="rgb(55,55,55)" stroke="rgb(55,55,55)"><path d="M1091.6 1413C1095.7 1409 1156.5 1414.1 1160.6 1420.7C1156.5 1424.7 1095.7 1419.6 1091.6 1413Z" stroke="none"/><path d="M1098.5 1413.8Q1126.1 1416.8 1153.7 1419.9" fill="none" stroke-width="6.4" stroke-linecap="round"/></g>
<g fill="rgb(165,165,165)" stroke="rgb(165,165,165)"><path d="M1102 1441C1105.5 1438.3 1156.5 1441 1160 1445C1156.5 1447.7 1105.5 1445 1102 1441Z" stroke="none"/><path d="M1107.8 1441.4Q1131 1443 1154.2 1444.6" fill="none" stroke-width="4" stroke-linecap="round"/></g>
<g fill="rgb(60,60,60)" stroke="rgb(60,60,60)"><path d="M1180 1427.2C1184.3 1421.9 1246.9 1421.9 1251.2 1427.2C1246.9 1432.5 1184.3 1432.5 1180 1427.2Z" stroke="none"/><path d="M1187.1 1427.2Q1215.6 1427.2 1244.1 1427.2" fill="none" stroke-width="6.4" stroke-linecap="round"/></g>
<g fill="rgb(65,65,65)" stroke="rgb(65,65,65)"><path d="M1268.5 1428.3C1273.2 1423 1341.5 1423 1346.2 1428.3C1341.5 1433.6 1273.2 1433.6 1268.5 1428.3Z" stroke="none"/><path d="M1276.3 1428.3Q1307.3 1428.3 1338.4 1428.3" fill="none" stroke-width="6.4" stroke-linecap="round"/></g>
<g fill="rgb(45,45,45)" stroke="rgb(45,45,45)"><path d="M1363.4 1427C1367.7 1418.7 1430.3 1417.3 1434.6 1425C1430.3 1428 1367.7 1429.3 1363.4 1427Z" stroke="none"/><path d="M1370.5 1426.8Q1399 1422.4 1427.5 1425.2" fill="none" stroke-width="6.4" stroke-linecap="round"/></g>
</g></g>
<clipPath id="c17"><rect x="1085.1" y="1455.2" width="349.9" height="55"/></clipPath>
<rect x="1085.1" y="1455.2" width="349.9" height="55" fill="#f0f0f0"/>
<g clip-path="url(#c17)">
<g filter="url(#bl2)" opacity="0.22">
<g fill="rgb(20,20,20)" stroke="rgb(20,20,20)"><path d="M1092.9 1476C1098.6 1465.6 1181.6 1469 1187.3 1481C1181.6 1491.4 1098.6 1488 1092.9 1476Z" stroke="none"/><path d="M1102.3 1476.5Q1140.1 1478.5 1177.9 1480.5" fill="none" stroke-width="13.4" stroke-linecap="round"/></g>
<g fill="rgb(115,115,115)" stroke="rgb(115,115,115)"><path d="M1107 1500C1111.6 1492.8 1178.4 1496.2 1183 1505C1178.4 1512.2 1111.6 1508.8 1107 1500Z" stroke="none"/><path d="M1114.6 1500.5Q1145 1502.5 1175.4 1504.5" fill="none" stroke-width="9.6" stroke-linecap="round"/></g>
<g fill="rgb(35,35,35)" stroke="rgb(35,35,35)"><path d="M1194.3 1483.3C1198.9 1472.1 1265.8 1472.1 1270.4 1483.3C1265.8 1494.5 1198.9 1494.5 1194.3 1483.3Z" stroke="none"/><path d="M1201.9 1483.3Q1232.3 1483.3 1262.8 1483.3" fill="none" stroke-width="13.4" stroke-linecap="round"/></g>
<g fill="rgb(25,25,25)" stroke="rgb(25,25,25)"><path d="M1279.5 1485.4C1284.1 1474.2 1351 1474.2 1355.6 1485.4C1351 1496.6 1284.1 1496.6 1279.5 1485.4Z" stroke="none"/><path d="M1287.1 1485.4Q1317.5 1485.4 1348 1485.4" fill="none" stroke-width="13.4" stroke-linecap="round"/></g>
<g fill="rgb(25,25,25)" stroke="rgb(25,25,25)"><path d="M1360.4 1484C1365 1472.6 1433 1472 1437.6 1483C1433 1494.4 1365 1495 1360.4 1484Z" stroke="none"/><path d="M1368.1 1483.9Q1399 1483.5 1429.9 1483.1" fill="none" stroke-width="13.4" stroke-linecap="round"/></g>
<g fill="rgb(160,160,160)" stroke="rgb(160,160,160)"><path d="M1197 1508C1211.2 1501.6 1418.8 1501.6 1433 1508C1418.8 1514.4 1211.2 1514.4 1197 1508Z" stroke="none"/><path d="M1220.6 1508Q1315 1508 1409.4 1508" fill="none" stroke-width="7.7" stroke-linecap="round"/></g>
</g>
<g filter="url(#bl)">
<g fill="rgb(20,20,20)" stroke="rgb(20,20,20)"><path d="M1095.9 1476C1101.2 1472.2 1179 1475.5 1184.3 1481C1179 1484.8 1101.2 1481.5 1095.9 1476Z" stroke="none"/><path d="M1104.7 1476.5Q1140.1 1478.5 1175.5 1480.5" fill="none" stroke-width="5.6" stroke-linecap="round"/></g>
<g fill="rgb(115,115,115)" stroke="rgb(115,115,115)"><path d="M1110 1500C1114.2 1497.5 1175.8 1500.8 1180 1505C1175.8 1507.5 1114.2 1504.2 1110 1500Z" stroke="none"/><path d="M1117 1500.5Q1145 1502.5 1173 1504.5" fill="none" stroke-width="4" stroke-linecap="round"/></g>
<g fill="rgb(35,35,35)" stroke="rgb(35,35,35)"><path d="M1197.3 1483.3C1201.5 1478.6 1263.2 1478.6 1267.4 1483.3C1263.2 1488 1201.5 1488 1197.3 1483.3Z" stroke="none"/><path d="M1204.3 1483.3Q1232.3 1483.3 1260.4 1483.3" fill="none" stroke-width="5.6" stroke-linecap="round"/></g>
<g fill="rgb(25,25,25)" stroke="rgb(25,25,25)"><path d="M1282.5 1485.4C1286.7 1480.7 1348.4 1480.7 1352.6 1485.4C1348.4 1490.1 1286.7 1490.1 1282.5 1485.4Z" stroke="none"/><path d="M1289.5 1485.4Q1317.5 1485.4 1345.6 1485.4" fill="none" stroke-width="5.6" stroke-linecap="round"/></g>
<g fill="rgb(25,25,25)" stroke="rgb(25,25,25)"><path d="M1363.4 1484C1367.7 1479.2 1430.3 1478.5 1434.6 1483C1430.3 1487.8 1367.7 1488.5 1363.4 1484Z" stroke="none"/><path d="M1370.5 1483.9Q1399 1483.5 1427.5 1483.1" fill="none" stroke-width="5.6" stroke-linecap="round"/></g>
<g fill="rgb(160,160,160)" stroke="rgb(160,160,160)"><path d="M1200 1508C1213.8 1505.3 1416.2 1505.3 1430 1508C1416.2 1510.7 1213.8 1510.7 1200 1508Z" stroke="none"/><path d="M1223 1508Q1315 1508 1407 1508" fill="none" stroke-width="3.2" stroke-linecap="round"/></g>
</g></g>
<clipPath id="c18"><rect x="1081.9" y="1519.5" width="349.9" height="54.4"/></clipPath>
<rect x="1081.9" y="1519.5" width="349.9" height="54.4" fill="#f0f0f0"/>
<g clip-path="url(#c18)">
<g filter="url(#bl2)" opacity="0.22">
<g fill="rgb(25,25,25)" stroke="rgb(25,25,25)"><path d="M1080 1531C1085.7 1519.2 1168.7 1523.2 1174.4 1537C1168.7 1548.8 1085.7 1544.8 1080 1531Z" stroke="none"/><path d="M1089.4 1531.6Q1127.2 1534 1165 1536.4" fill="none" stroke-width="15.4" stroke-linecap="round"/></g>
<g fill="rgb(20,20,20)" stroke="rgb(20,20,20)"><path d="M1178.1 1540.4C1183 1526 1254.7 1526 1259.6 1540.4C1254.7 1554.8 1183 1554.8 1178.1 1540.4Z" stroke="none"/><path d="M1186.2 1540.4Q1218.8 1540.4 1251.4 1540.4" fill="none" stroke-width="17.3" stroke-linecap="round"/></g>
<g fill="rgb(15,15,15)" stroke="rgb(15,15,15)"><path d="M1260.1 1542.6C1265.4 1528.2 1342.8 1528.2 1348.1 1542.6C1342.8 1557 1265.4 1557 1260.1 1542.6Z" stroke="none"/><path d="M1268.9 1542.6Q1304.1 1542.6 1339.3 1542.6" fill="none" stroke-width="17.3" stroke-linecap="round"/></g>
<g fill="rgb(15,15,15)" stroke="rgb(15,15,15)"><path d="M1347.5 1543.7C1352.4 1529.3 1424.1 1529.3 1429 1543.7C1424.1 1558.1 1352.4 1558.1 1347.5 1543.7Z" stroke="none"/><path d="M1355.7 1543.7Q1388.2 1543.7 1420.8 1543.7" fill="none" stroke-width="17.3" stroke-linecap="round"/></g>
</g>
<g filter="url(#bl)">
<g fill="rgb(25,25,25)" stroke="rgb(25,25,25)"><path d="M1083 1531C1088.3 1526.7 1166.1 1530.6 1171.4 1537C1166.1 1541.3 1088.3 1537.4 1083 1531Z" stroke="none"/><path d="M1091.8 1531.6Q1127.2 1534 1162.6 1536.4" fill="none" stroke-width="6.4" stroke-linecap="round"/></g>
<g fill="rgb(20,20,20)" stroke="rgb(20,20,20)"><path d="M1181.1 1540.4C1185.6 1534.4 1252.1 1534.4 1256.6 1540.4C1252.1 1546.4 1185.6 1546.4 1181.1 1540.4Z" stroke="none"/><path d="M1188.6 1540.4Q1218.8 1540.4 1249 1540.4" fill="none" stroke-width="7.2" stroke-linecap="round"/></g>
<g fill="rgb(15,15,15)" stroke="rgb(15,15,15)"><path d="M1263.1 1542.6C1268 1536.6 1340.2 1536.6 1345.1 1542.6C1340.2 1548.6 1268 1548.6 1263.1 1542.6Z" stroke="none"/><path d="M1271.3 1542.6Q1304.1 1542.6 1336.9 1542.6" fill="none" stroke-width="7.2" stroke-linecap="round"/></g>
<g fill="rgb(15,15,15)" stroke="rgb(15,15,15)"><path d="M1350.5 1543.7C1355 1537.7 1421.5 1537.7 1426 1543.7C1421.5 1549.7 1355 1549.7 1350.5 1543.7Z" stroke="none"/><path d="M1358 1543.7Q1388.2 1543.7 1418.5 1543.7" fill="none" stroke-width="7.2" stroke-linecap="round"/></g>
</g></g>
<clipPath id="c19"><rect x="1454.7" y="1189.8" width="349.3" height="50"/></clipPath>
<rect x="1454.7" y="1189.8" width="349.3" height="50" fill="#f0f0f0"/>
<g clip-path="url(#c19)">
<g filter="url(#bl2)" opacity="0.22">
<g fill="rgb(35,35,35)" stroke="rgb(35,35,35)"><path d="M1460.7 1205.3C1465.1 1191.2 1529.2 1192.3 1533.6 1207C1529.2 1221.1 1465.1 1220 1460.7 1205.3Z" stroke="none"/><path d="M1468 1205.5Q1497.2 1206.2 1526.3 1206.8" fill="none" stroke-width="17.3" stroke-linecap="round"/></g>
<g fill="rgb(200,200,200)" stroke="rgb(200,200,200)"><path d="M1551.3 1212C1555.8 1199.7 1621.9 1201.7 1626.4 1215C1621.9 1227.3 1555.8 1225.3 1551.3 1212Z" stroke="none"/><path d="M1558.8 1212.3Q1588.8 1213.5 1618.9 1214.7" fill="none" stroke-width="15.4" stroke-linecap="round"/></g>
<g fill="rgb(212,212,212)" stroke="rgb(212,212,212)"><path d="M1650.6 1217C1653.9 1205.6 1702.9 1205 1706.2 1216C1702.9 1227.4 1653.9 1228 1650.6 1217Z" stroke="none"/><path d="M1656.2 1216.9Q1678.4 1216.5 1700.6 1216.1" fill="none" stroke-width="13.4" stroke-linecap="round"/></g>
<g fill="rgb(222,222,222)" stroke="rgb(222,222,222)"><path d="M1749.8 1218C1752.2 1208.4 1788 1208.4 1790.4 1218C1788 1227.6 1752.2 1227.6 1749.8 1218Z" stroke="none"/><path d="M1753.9 1218Q1770.1 1218 1786.3 1218" fill="none" stroke-width="11.5" stroke-linecap="round"/></g>
</g>
<g filter="url(#bl)">
<g fill="rgb(35,35,35)" stroke="rgb(35,35,35)"><path d="M1463.7 1205.3C1467.7 1199.6 1526.6 1200.7 1530.6 1207C1526.6 1212.7 1467.7 1211.6 1463.7 1205.3Z" stroke="none"/><path d="M1470.4 1205.5Q1497.2 1206.2 1523.9 1206.8" fill="none" stroke-width="7.2" stroke-linecap="round"/></g>
<g fill="rgb(200,200,200)" stroke="rgb(200,200,200)"><path d="M1554.3 1212C1558.4 1207.2 1619.3 1209.2 1623.4 1215C1619.3 1219.8 1558.4 1217.8 1554.3 1212Z" stroke="none"/><path d="M1561.2 1212.3Q1588.8 1213.5 1616.5 1214.7" fill="none" stroke-width="6.4" stroke-linecap="round"/></g>
<g fill="rgb(212,212,212)" stroke="rgb(212,212,212)"><path d="M1653.6 1217C1656.6 1212.2 1700.2 1211.5 1703.2 1216C1700.2 1220.8 1656.6 1221.5 1653.6 1217Z" stroke="none"/><path d="M1658.6 1216.9Q1678.4 1216.5 1698.2 1216.1" fill="none" stroke-width="5.6" stroke-linecap="round"/></g>
<g fill="rgb(222,222,222)" stroke="rgb(222,222,222)"><path d="M1752.8 1218C1754.9 1214 1785.3 1214 1787.4 1218C1785.3 1222 1754.9 1222 1752.8 1218Z" stroke="none"/><path d="M1756.3 1218Q1770.1 1218 1783.9 1218" fill="none" stroke-width="4.8" stroke-linecap="round"/></g>
</g></g>
<clipPath id="c20"><rect x="1454.7" y="1255.6" width="349.3" height="53.9"/></clipPath>
<rect x="1454.7" y="1255.6" width="349.3" height="53.9" fill="#f0f0f0"/>
<g clip-path="url(#c20)">
<g filter="url(#bl2)" opacity="0.22">
<g fill="rgb(35,35,35)" stroke="rgb(35,35,35)"><path d="M1460.7 1279.7C1465 1265.3 1528.2 1265.3 1532.5 1279.7C1528.2 1294.1 1465 1294.1 1460.7 1279.7Z" stroke="none"/><path d="M1467.9 1279.7Q1496.6 1279.7 1525.3 1279.7" fill="none" stroke-width="17.3" stroke-linecap="round"/></g>
<g fill="rgb(115,115,115)" stroke="rgb(115,115,115)"><path d="M1546 1284C1550.6 1271.2 1617.4 1271.2 1622 1284C1617.4 1296.8 1550.6 1296.8 1546 1284Z" stroke="none"/><path d="M1553.6 1284Q1584 1284 1614.4 1284" fill="none" stroke-width="15.4" stroke-linecap="round"/></g>
<g fill="rgb(105,105,105)" stroke="rgb(105,105,105)"><path d="M1643 1287.3C1646.8 1272.9 1702.4 1272.9 1706.2 1287.3C1702.4 1301.7 1646.8 1301.7 1643 1287.3Z" stroke="none"/><path d="M1649.3 1287.3Q1674.6 1287.3 1699.9 1287.3" fill="none" stroke-width="17.3" stroke-linecap="round"/></g>
<g fill="rgb(115,115,115)" stroke="rgb(115,115,115)"><path d="M1720.7 1286.2C1725.3 1273.4 1793.3 1273.4 1797.9 1286.2C1793.3 1299 1725.3 1299 1720.7 1286.2Z" stroke="none"/><path d="M1728.4 1286.2Q1759.3 1286.2 1790.2 1286.2" fill="none" stroke-width="15.4" stroke-linecap="round"/></g>
</g>
<g filter="url(#bl)">
<g fill="rgb(35,35,35)" stroke="rgb(35,35,35)"><path d="M1463.7 1279.7C1467.6 1273.7 1525.6 1273.7 1529.5 1279.7C1525.6 1285.7 1467.6 1285.7 1463.7 1279.7Z" stroke="none"/><path d="M1470.3 1279.7Q1496.6 1279.7 1522.9 1279.7" fill="none" stroke-width="7.2" stroke-linecap="round"/></g>
<g fill="rgb(115,115,115)" stroke="rgb(115,115,115)"><path d="M1549 1284C1553.2 1278.7 1614.8 1278.7 1619 1284C1614.8 1289.3 1553.2 1289.3 1549 1284Z" stroke="none"/><path d="M1556 1284Q1584 1284 1612 1284" fill="none" stroke-width="6.4" stroke-linecap="round"/></g>
<g fill="rgb(105,105,105)" stroke="rgb(105,105,105)"><path d="M1646 1287.3C1649.4 1281.3 1699.8 1281.3 1703.2 1287.3C1699.8 1293.3 1649.4 1293.3 1646 1287.3Z" stroke="none"/><path d="M1651.7 1287.3Q1674.6 1287.3 1697.5 1287.3" fill="none" stroke-width="7.2" stroke-linecap="round"/></g>
<g fill="rgb(115,115,115)" stroke="rgb(115,115,115)"><path d="M1723.7 1286.2C1728 1280.9 1790.6 1280.9 1794.9 1286.2C1790.6 1291.5 1728 1291.5 1723.7 1286.2Z" stroke="none"/><path d="M1730.8 1286.2Q1759.3 1286.2 1787.8 1286.2" fill="none" stroke-width="6.4" stroke-linecap="round"/></g>
</g></g>
<clipPath id="c21"><rect x="1454.7" y="1321.4" width="349.3" height="53.9"/></clipPath>
<rect x="1454.7" y="1321.4" width="349.3" height="53.9" fill="#f0f0f0"/>
<g clip-path="url(#c21)">
<g filter="url(#bl2)" opacity="0.22">
<g fill="rgb(30,30,30)" stroke="rgb(30,30,30)"><path d="M1461.8 1339.1C1466.2 1324.7 1531.4 1324.7 1535.8 1339.1C1531.4 1353.5 1466.2 1353.5 1461.8 1339.1Z" stroke="none"/><path d="M1469.2 1339.1Q1498.8 1339.1 1528.4 1339.1" fill="none" stroke-width="17.3" stroke-linecap="round"/></g>
<g fill="rgb(105,105,105)" stroke="rgb(105,105,105)"><path d="M1551.3 1344.5C1555.7 1331.7 1619.8 1331.7 1624.2 1344.5C1619.8 1357.3 1555.7 1357.3 1551.3 1344.5Z" stroke="none"/><path d="M1558.6 1344.5Q1587.8 1344.5 1616.9 1344.5" fill="none" stroke-width="15.4" stroke-linecap="round"/></g>
<g fill="rgb(105,105,105)" stroke="rgb(105,105,105)"><path d="M1644.1 1346C1648 1333.2 1704.5 1333.2 1708.4 1346C1704.5 1358.8 1648 1358.8 1644.1 1346Z" stroke="none"/><path d="M1650.5 1346Q1676.2 1346 1702 1346" fill="none" stroke-width="15.4" stroke-linecap="round"/></g>
<g fill="rgb(115,115,115)" stroke="rgb(115,115,115)"><path d="M1726.1 1344.5C1730.5 1331.7 1794.6 1331.7 1799 1344.5C1794.6 1357.3 1730.5 1357.3 1726.1 1344.5Z" stroke="none"/><path d="M1733.4 1344.5Q1762.5 1344.5 1791.7 1344.5" fill="none" stroke-width="15.4" stroke-linecap="round"/></g>
</g>
<g filter="url(#bl)">
<g fill="rgb(30,30,30)" stroke="rgb(30,30,30)"><path d="M1464.8 1339.1C1468.9 1333.1 1528.7 1333.1 1532.8 1339.1C1528.7 1345.1 1468.9 1345.1 1464.8 1339.1Z" stroke="none"/><path d="M1471.6 1339.1Q1498.8 1339.1 1526 1339.1" fill="none" stroke-width="7.2" stroke-linecap="round"/></g>
<g fill="rgb(105,105,105)" stroke="rgb(105,105,105)"><path d="M1554.3 1344.5C1558.3 1339.2 1617.2 1339.2 1621.2 1344.5C1617.2 1349.8 1558.3 1349.8 1554.3 1344.5Z" stroke="none"/><path d="M1561 1344.5Q1587.8 1344.5 1614.5 1344.5" fill="none" stroke-width="6.4" stroke-linecap="round"/></g>
<g fill="rgb(105,105,105)" stroke="rgb(105,105,105)"><path d="M1647.1 1346C1650.6 1340.7 1701.9 1340.7 1705.4 1346C1701.9 1351.3 1650.6 1351.3 1647.1 1346Z" stroke="none"/><path d="M1652.9 1346Q1676.2 1346 1699.6 1346" fill="none" stroke-width="6.4" stroke-linecap="round"/></g>
<g fill="rgb(115,115,115)" stroke="rgb(115,115,115)"><path d="M1729.1 1344.5C1733.1 1339.2 1792 1339.2 1796 1344.5C1792 1349.8 1733.1 1349.8 1729.1 1344.5Z" stroke="none"/><path d="M1735.8 1344.5Q1762.5 1344.5 1789.3 1344.5" fill="none" stroke-width="6.4" stroke-linecap="round"/></g>
</g></g>
<clipPath id="c22"><rect x="1454.7" y="1394.2" width="349.3" height="53.9"/></clipPath>
<rect x="1454.7" y="1394.2" width="349.3" height="53.9" fill="#f0f0f0"/>
<g clip-path="url(#c22)">
<g filter="url(#bl2)" opacity="0.22">
<g fill="rgb(55,55,55)" stroke="rgb(55,55,55)"><path d="M1459.7 1420C1464.3 1405.6 1531.2 1405.6 1535.8 1420C1531.2 1434.4 1464.3 1434.4 1459.7 1420Z" stroke="none"/><path d="M1467.3 1420Q1497.8 1420 1528.2 1420" fill="none" stroke-width="17.3" stroke-linecap="round"/></g>
<g fill="rgb(75,75,75)" stroke="rgb(75,75,75)"><path d="M1547 1426.5C1551.8 1412.1 1621.6 1412.1 1626.4 1426.5C1621.6 1440.9 1551.8 1440.9 1547 1426.5Z" stroke="none"/><path d="M1554.9 1426.5Q1586.7 1426.5 1618.5 1426.5" fill="none" stroke-width="17.3" stroke-linecap="round"/></g>
<g fill="rgb(125,125,125)" stroke="rgb(125,125,125)"><path d="M1642 1430.4C1646.2 1417.6 1708.5 1417.6 1712.7 1430.4C1708.5 1443.2 1646.2 1443.2 1642 1430.4Z" stroke="none"/><path d="M1649.1 1430.4Q1677.3 1430.4 1705.6 1430.4" fill="none" stroke-width="15.4" stroke-linecap="round"/></g>
<g fill="rgb(125,125,125)" stroke="rgb(125,125,125)"><path d="M1726.1 1430C1730.3 1417.2 1792.6 1417.2 1796.8 1430C1792.6 1442.8 1730.3 1442.8 1726.1 1430Z" stroke="none"/><path d="M1733.2 1430Q1761.4 1430 1789.7 1430" fill="none" stroke-width="15.4" stroke-linecap="round"/></g>
</g>
<g filter="url(#bl)">
<g fill="rgb(55,55,55)" stroke="rgb(55,55,55)"><path d="M1462.7 1420C1466.9 1414 1528.6 1414 1532.8 1420C1528.6 1426 1466.9 1426 1462.7 1420Z" stroke="none"/><path d="M1469.7 1420Q1497.8 1420 1525.8 1420" fill="none" stroke-width="7.2" stroke-linecap="round"/></g>
<g fill="rgb(75,75,75)" stroke="rgb(75,75,75)"><path d="M1550 1426.5C1554.4 1420.5 1619 1420.5 1623.4 1426.5C1619 1432.5 1554.4 1432.5 1550 1426.5Z" stroke="none"/><path d="M1557.3 1426.5Q1586.7 1426.5 1616.1 1426.5" fill="none" stroke-width="7.2" stroke-linecap="round"/></g>
<g fill="rgb(125,125,125)" stroke="rgb(125,125,125)"><path d="M1645 1430.4C1648.9 1425.1 1705.8 1425.1 1709.7 1430.4C1705.8 1435.7 1648.9 1435.7 1645 1430.4Z" stroke="none"/><path d="M1651.5 1430.4Q1677.3 1430.4 1703.2 1430.4" fill="none" stroke-width="6.4" stroke-linecap="round"/></g>
<g fill="rgb(125,125,125)" stroke="rgb(125,125,125)"><path d="M1729.1 1430C1733 1424.7 1789.9 1424.7 1793.8 1430C1789.9 1435.3 1733 1435.3 1729.1 1430Z" stroke="none"/><path d="M1735.6 1430Q1761.4 1430 1787.3 1430" fill="none" stroke-width="6.4" stroke-linecap="round"/></g>
</g></g>
<clipPath id="c23"><rect x="1454.7" y="1455.2" width="349.3" height="54.4"/></clipPath>
<rect x="1454.7" y="1455.2" width="349.3" height="54.4" fill="#f0f0f0"/>
<g clip-path="url(#c23)">
<g filter="url(#bl2)" opacity="0.22">
<g fill="rgb(20,20,20)" stroke="rgb(20,20,20)"><path d="M1464 1486C1468.8 1475.7 1539.6 1477.7 1544.4 1489C1539.6 1503.3 1468.8 1501.3 1464 1486Z" stroke="none"/><path d="M1472 1486.3Q1504.2 1490.2 1536.4 1488.7" fill="none" stroke-width="15.4" stroke-linecap="round"/></g>
<g fill="rgb(85,85,85)" stroke="rgb(85,85,85)"><path d="M1551.3 1491.9C1555.9 1482.3 1623.9 1482.3 1628.5 1491.9C1623.9 1501.5 1555.9 1501.5 1551.3 1491.9Z" stroke="none"/><path d="M1559 1491.9Q1589.9 1491.9 1620.8 1491.9" fill="none" stroke-width="11.5" stroke-linecap="round"/></g>
<g fill="rgb(75,75,75)" stroke="rgb(75,75,75)"><path d="M1638.7 1489.7C1642.9 1478.5 1705.3 1478.5 1709.5 1489.7C1705.3 1500.9 1642.9 1500.9 1638.7 1489.7Z" stroke="none"/><path d="M1645.8 1489.7Q1674.1 1489.7 1702.4 1489.7" fill="none" stroke-width="13.4" stroke-linecap="round"/></g>
<g fill="rgb(75,75,75)" stroke="rgb(75,75,75)"><path d="M1719.6 1488C1724.2 1476.1 1792.2 1473.5 1796.8 1484C1792.2 1495.9 1724.2 1498.5 1719.6 1488Z" stroke="none"/><path d="M1727.3 1487.6Q1758.2 1486 1789.1 1484.4" fill="none" stroke-width="13.4" stroke-linecap="round"/></g>
</g>
<g filter="url(#bl)">
<g fill="rgb(20,20,20)" stroke="rgb(20,20,20)"><path d="M1467 1486C1471.5 1483.2 1536.9 1485.2 1541.4 1489C1536.9 1495.8 1471.5 1493.8 1467 1486Z" stroke="none"/><path d="M1474.4 1486.3Q1504.2 1490.2 1534 1488.7" fill="none" stroke-width="6.4" stroke-linecap="round"/></g>
<g fill="rgb(85,85,85)" stroke="rgb(85,85,85)"><path d="M1554.3 1491.9C1558.6 1487.9 1621.2 1487.9 1625.5 1491.9C1621.2 1495.9 1558.6 1495.9 1554.3 1491.9Z" stroke="none"/><path d="M1561.4 1491.9Q1589.9 1491.9 1618.4 1491.9" fill="none" stroke-width="4.8" stroke-linecap="round"/></g>
<g fill="rgb(75,75,75)" stroke="rgb(75,75,75)"><path d="M1641.7 1489.7C1645.6 1485 1702.6 1485 1706.5 1489.7C1702.6 1494.4 1645.6 1494.4 1641.7 1489.7Z" stroke="none"/><path d="M1648.2 1489.7Q1674.1 1489.7 1700 1489.7" fill="none" stroke-width="5.6" stroke-linecap="round"/></g>
<g fill="rgb(75,75,75)" stroke="rgb(75,75,75)"><path d="M1722.6 1488C1726.9 1482.7 1789.5 1480 1793.8 1484C1789.5 1489.3 1726.9 1492 1722.6 1488Z" stroke="none"/><path d="M1729.7 1487.6Q1758.2 1486 1786.7 1484.4" fill="none" stroke-width="5.6" stroke-linecap="round"/></g>
</g></g>
<clipPath id="c24"><rect x="1454.7" y="1520" width="349.3" height="53.9"/></clipPath>
<rect x="1454.7" y="1520" width="349.3" height="53.9" fill="#f0f0f0"/>
<g clip-path="url(#c24)">
<g filter="url(#bl2)" opacity="0.22">
<g fill="rgb(8,8,8)" stroke="rgb(8,8,8)"><path d="M1458.6 1544.8C1463.7 1525.6 1538.2 1525.6 1543.3 1544.8C1538.2 1564 1463.7 1564 1458.6 1544.8Z" stroke="none"/><path d="M1467.1 1544.8Q1500.9 1544.8 1534.8 1544.8" fill="none" stroke-width="23" stroke-linecap="round"/></g>
<g fill="rgb(18,18,18)" stroke="rgb(18,18,18)"><path d="M1547 1549C1552.2 1529.8 1627.7 1529.8 1632.9 1549C1627.7 1568.2 1552.2 1568.2 1547 1549Z" stroke="none"/><path d="M1555.6 1549Q1590 1549 1624.3 1549" fill="none" stroke-width="23" stroke-linecap="round"/></g>
<g fill="rgb(22,22,22)" stroke="rgb(22,22,22)"><path d="M1638.7 1549C1643.2 1531.4 1709.3 1531.4 1713.8 1549C1709.3 1566.6 1643.2 1566.6 1638.7 1549Z" stroke="none"/><path d="M1646.2 1549Q1676.2 1549 1706.3 1549" fill="none" stroke-width="21.1" stroke-linecap="round"/></g>
<g fill="rgb(22,22,22)" stroke="rgb(22,22,22)"><path d="M1722.9 1547.3C1727.7 1529.7 1798.5 1529.7 1803.3 1547.3C1798.5 1564.9 1727.7 1564.9 1722.9 1547.3Z" stroke="none"/><path d="M1730.9 1547.3Q1763.1 1547.3 1795.3 1547.3" fill="none" stroke-width="21.1" stroke-linecap="round"/></g>
</g>
<g filter="url(#bl)">
<g fill="rgb(8,8,8)" stroke="rgb(8,8,8)"><path d="M1461.6 1544.8C1466.3 1536.8 1535.6 1536.8 1540.3 1544.8C1535.6 1552.8 1466.3 1552.8 1461.6 1544.8Z" stroke="none"/><path d="M1469.5 1544.8Q1500.9 1544.8 1532.4 1544.8" fill="none" stroke-width="9.6" stroke-linecap="round"/></g>
<g fill="rgb(18,18,18)" stroke="rgb(18,18,18)"><path d="M1550 1549C1554.8 1541 1625.1 1541 1629.9 1549C1625.1 1557 1554.8 1557 1550 1549Z" stroke="none"/><path d="M1558 1549Q1590 1549 1621.9 1549" fill="none" stroke-width="9.6" stroke-linecap="round"/></g>
<g fill="rgb(22,22,22)" stroke="rgb(22,22,22)"><path d="M1641.7 1549C1645.8 1541.7 1706.7 1541.7 1710.8 1549C1706.7 1556.3 1645.8 1556.3 1641.7 1549Z" stroke="none"/><path d="M1648.6 1549Q1676.2 1549 1703.9 1549" fill="none" stroke-width="8.8" stroke-linecap="round"/></g>
<g fill="rgb(22,22,22)" stroke="rgb(22,22,22)"><path d="M1725.9 1547.3C1730.4 1540 1795.8 1540 1800.3 1547.3C1795.8 1554.6 1730.4 1554.6 1725.9 1547.3Z" stroke="none"/><path d="M1733.3 1547.3Q1763.1 1547.3 1792.9 1547.3" fill="none" stroke-width="8.8" stroke-linecap="round"/></g>
</g></g>
<text x="99.3" y="1659.6" font-size="41" font-weight="bold">d</text>
<line x1="333.1" y1="1693.8" x2="333.1" y2="1983.6" stroke="#000" stroke-width="3"/>
<line x1="324.7" y1="1695.3" x2="333.1" y2="1695.3" stroke="#000" stroke-width="3" stroke-linecap="round"/>
<text x="312" y="1705.7" text-anchor="end">100</text>
<line x1="324.7" y1="1753" x2="333.1" y2="1753" stroke="#000" stroke-width="3" stroke-linecap="round"/>
<text x="312" y="1763.4" text-anchor="end">80</text>
<line x1="324.7" y1="1810.6" x2="333.1" y2="1810.6" stroke="#000" stroke-width="3" stroke-linecap="round"/>
<text x="312" y="1821" text-anchor="end">60</text>
<line x1="324.7" y1="1868.3" x2="333.1" y2="1868.3" stroke="#000" stroke-width="3" stroke-linecap="round"/>
<text x="312" y="1878.7" text-anchor="end">40</text>
<line x1="324.7" y1="1925.9" x2="333.1" y2="1925.9" stroke="#000" stroke-width="3" stroke-linecap="round"/>
<text x="312" y="1936.3" text-anchor="end">20</text>
<line x1="324.7" y1="1983.6" x2="333.1" y2="1983.6" stroke="#000" stroke-width="3" stroke-linecap="round"/>
<text x="312" y="1994" text-anchor="end">0</text>
<line x1="324.7" y1="1983.6" x2="965.9" y2="1983.6" stroke="#000" stroke-width="3" stroke-linecap="round"/>
<line x1="333.1" y1="1983.6" x2="333.1" y2="1991.4" stroke="#000" stroke-width="3" stroke-linecap="round"/>
<text x="333.1" y="2025.8" text-anchor="middle">20</text>
<line x1="490.9" y1="1983.6" x2="490.9" y2="1991.4" stroke="#000" stroke-width="3" stroke-linecap="round"/>
<text x="490.9" y="2025.8" text-anchor="middle">30</text>
<line x1="648.8" y1="1983.6" x2="648.8" y2="1991.4" stroke="#000" stroke-width="3" stroke-linecap="round"/>
<text x="648.8" y="2025.8" text-anchor="middle">40</text>
<line x1="806.6" y1="1983.6" x2="806.6" y2="1991.4" stroke="#000" stroke-width="3" stroke-linecap="round"/>
<text x="806.6" y="2025.8" text-anchor="middle">50</text>
<line x1="964.4" y1="1983.6" x2="964.4" y2="1991.4" stroke="#000" stroke-width="3" stroke-linecap="round"/>
<text x="964.4" y="2025.8" text-anchor="middle">60</text>
<text x="648.8" y="2069.3" text-anchor="middle">ECAR (mpH/min)</text>
<text x="237.5" y="1839.4" text-anchor="middle" transform="rotate(-90 237.5 1839.4)">OCR (pmol/min)</text>
<text x="647.8" y="1660.5" text-anchor="middle">U251</text>
<path d="M589.8 1858.5H658.7M654.4 1848.7V1868.9M589.8 1851.5V1865.5M658.7 1851.5V1865.5M647.4 1848.7H661.4M647.4 1868.9H661.4" stroke="#a0a0a6" stroke-width="3.8" stroke-linecap="round" fill="none"/>
<rect x="649" y="1853.5" width="10" height="10" fill="#a0a0a6"/>
<path d="M640.8 1840H905.7M773.3 1814.2V1866.5M640.8 1833V1847M905.7 1833V1847M766.3 1814.2H780.3M766.3 1866.5H780.3" stroke="#5656f8" stroke-width="3.8" stroke-linecap="round" fill="none"/>
<path d="M773.3 1834L779.3 1845.4L767.3 1845.4Z" fill="#5656f8"/>
<path d="M660.2 1858.5H779M719.7 1846.3V1871.7M660.2 1851.5V1865.5M779 1851.5V1865.5M712.7 1846.3H726.7M712.7 1871.7H726.7" stroke="#ff0000" stroke-width="3.8" stroke-linecap="round" fill="none"/>
<path d="M719.7 1864.5L725.7 1853.1L713.7 1853.1Z" fill="#ff0000"/>
<path d="M475.3 1727.6H528M501.2 1709.9V1745.1M475.3 1720.6V1734.6M528 1720.6V1734.6M494.2 1709.9H508.2M494.2 1745.1H508.2" stroke="#000" stroke-width="3.8" stroke-linecap="round" fill="none"/>
<circle cx="501.2" cy="1727.6" r="5.6" fill="#000"/>
<line x1="1152.3" y1="1694.4" x2="1152.3" y2="1983.6" stroke="#000" stroke-width="3"/>
<line x1="1143.9" y1="1695.9" x2="1152.3" y2="1695.9" stroke="#000" stroke-width="3" stroke-linecap="round"/>
<text x="1132.7" y="1706.3" text-anchor="end">120</text>
<line x1="1143.9" y1="1743.9" x2="1152.3" y2="1743.9" stroke="#000" stroke-width="3" stroke-linecap="round"/>
<text x="1132.7" y="1754.3" text-anchor="end">100</text>
<line x1="1143.9" y1="1791.8" x2="1152.3" y2="1791.8" stroke="#000" stroke-width="3" stroke-linecap="round"/>
<text x="1132.7" y="1802.2" text-anchor="end">80</text>
<line x1="1143.9" y1="1839.8" x2="1152.3" y2="1839.8" stroke="#000" stroke-width="3" stroke-linecap="round"/>
<text x="1132.7" y="1850.2" text-anchor="end">60</text>
<line x1="1143.9" y1="1887.7" x2="1152.3" y2="1887.7" stroke="#000" stroke-width="3" stroke-linecap="round"/>
<text x="1132.7" y="1898.1" text-anchor="end">40</text>
<line x1="1143.9" y1="1935.7" x2="1152.3" y2="1935.7" stroke="#000" stroke-width="3" stroke-linecap="round"/>
<text x="1132.7" y="1946.1" text-anchor="end">20</text>
<line x1="1143.9" y1="1983.6" x2="1152.3" y2="1983.6" stroke="#000" stroke-width="3" stroke-linecap="round"/>
<text x="1132.7" y="1994" text-anchor="end">0</text>
<line x1="1143.9" y1="1983.6" x2="1786.2" y2="1983.6" stroke="#000" stroke-width="3" stroke-linecap="round"/>
<line x1="1152.3" y1="1983.6" x2="1152.3" y2="1991.4" stroke="#000" stroke-width="3" stroke-linecap="round"/>
<text x="1152.3" y="2024.7" text-anchor="middle">0</text>
<line x1="1310.4" y1="1983.6" x2="1310.4" y2="1991.4" stroke="#000" stroke-width="3" stroke-linecap="round"/>
<text x="1310.4" y="2024.7" text-anchor="middle">20</text>
<line x1="1468.5" y1="1983.6" x2="1468.5" y2="1991.4" stroke="#000" stroke-width="3" stroke-linecap="round"/>
<text x="1468.5" y="2024.7" text-anchor="middle">40</text>
<line x1="1626.6" y1="1983.6" x2="1626.6" y2="1991.4" stroke="#000" stroke-width="3" stroke-linecap="round"/>
<text x="1626.6" y="2024.7" text-anchor="middle">60</text>
<line x1="1784.7" y1="1983.6" x2="1784.7" y2="1991.4" stroke="#000" stroke-width="3" stroke-linecap="round"/>
<text x="1784.7" y="2024.7" text-anchor="middle">80</text>
<text x="1468.5" y="2068.2" text-anchor="middle">ECAR (mpH/min)</text>
<text x="1057.5" y="1839.8" text-anchor="middle" transform="rotate(-90 1057.5 1839.8)">OCR (pmol/min)</text>
<text x="1468.5" y="1660.5" text-anchor="middle">A172</text>
<path d="M1449.2 1930.4H1602.1M1525.8 1927V1934M1449.2 1923.4V1937.4M1602.1 1923.4V1937.4M1518.8 1927H1532.8M1518.8 1934H1532.8" stroke="#a0a0a6" stroke-width="3.8" stroke-linecap="round" fill="none"/>
<rect x="1520" y="1925.9" width="11.6" height="11.6" fill="#a0a0a6"/>
<path d="M1424.2 1933.2H1668.1M1545.9 1925.1V1939.6M1424.2 1926.2V1940.2M1668.1 1926.2V1940.2M1538.9 1925.1H1552.9M1538.9 1939.6H1552.9" stroke="#5656f8" stroke-width="3.8" stroke-linecap="round" fill="none"/>
<path d="M1545.9 1927.5L1551.9 1938.9L1539.9 1938.9Z" fill="#5656f8"/>
<path d="M1624.4 1924.3H1699.6M1662 1915V1934M1624.4 1917.3V1931.3M1699.6 1917.3V1931.3M1655 1915H1669M1655 1934H1669" stroke="#ff0000" stroke-width="3.8" stroke-linecap="round" fill="none"/>
<path d="M1662 1930.3L1668 1918.9L1656 1918.9Z" fill="#ff0000"/>
<path d="M1295.9 1746.3H1388M1342 1709.6V1782.5M1295.9 1739.3V1753.3M1388 1739.3V1753.3M1335 1709.6H1349M1335 1782.5H1349" stroke="#000" stroke-width="3.8" stroke-linecap="round" fill="none"/>
<circle cx="1342" cy="1746.3" r="5.6" fill="#000"/>
<circle cx="1727.6" cy="1701.6" r="6" fill="#000"/>
<text x="1745" y="1711" font-size="26.5">Control</text>
<rect x="1723.1" y="1743.8" width="12" height="12" fill="#a0a0a6"/>
<text x="1745" y="1758.4" font-size="26.5">10 μM ONC201</text>
<path d="M1727.5 1794.2L1733.8 1806.2L1721.2 1806.2Z" fill="#5656f8"/>
<text x="1745" y="1809.8" font-size="26.5">20 μM ONC201</text>
<path d="M1727.5 1856.3L1733.8 1844.3L1721.2 1844.3Z" fill="#ff0000"/>
<text x="1745" y="1857.2" font-size="26.5">50 μM ONC201</text>
<path d="M167.2 2115.2V1930M167.2 2115.2H347" stroke="#000" stroke-width="4.6" stroke-linecap="round" stroke-linejoin="round" fill="none"/>
<path d="M167.4 1913.6L175.6 1933.5L159.2 1933.5Z" fill="#000"/>
<path d="M364.8 2115.2L344.7 2107.6L344.7 2122.8Z" fill="#000"/>
<text x="150.3" y="2024.6" text-anchor="middle" fill="#559ff2" transform="rotate(-90 150.3 2024.6)">OXPHOS</text>
<text x="254.4" y="2155.3" text-anchor="middle" fill="#559ff2">Glycolysis</text>
</svg>
</body></html>
